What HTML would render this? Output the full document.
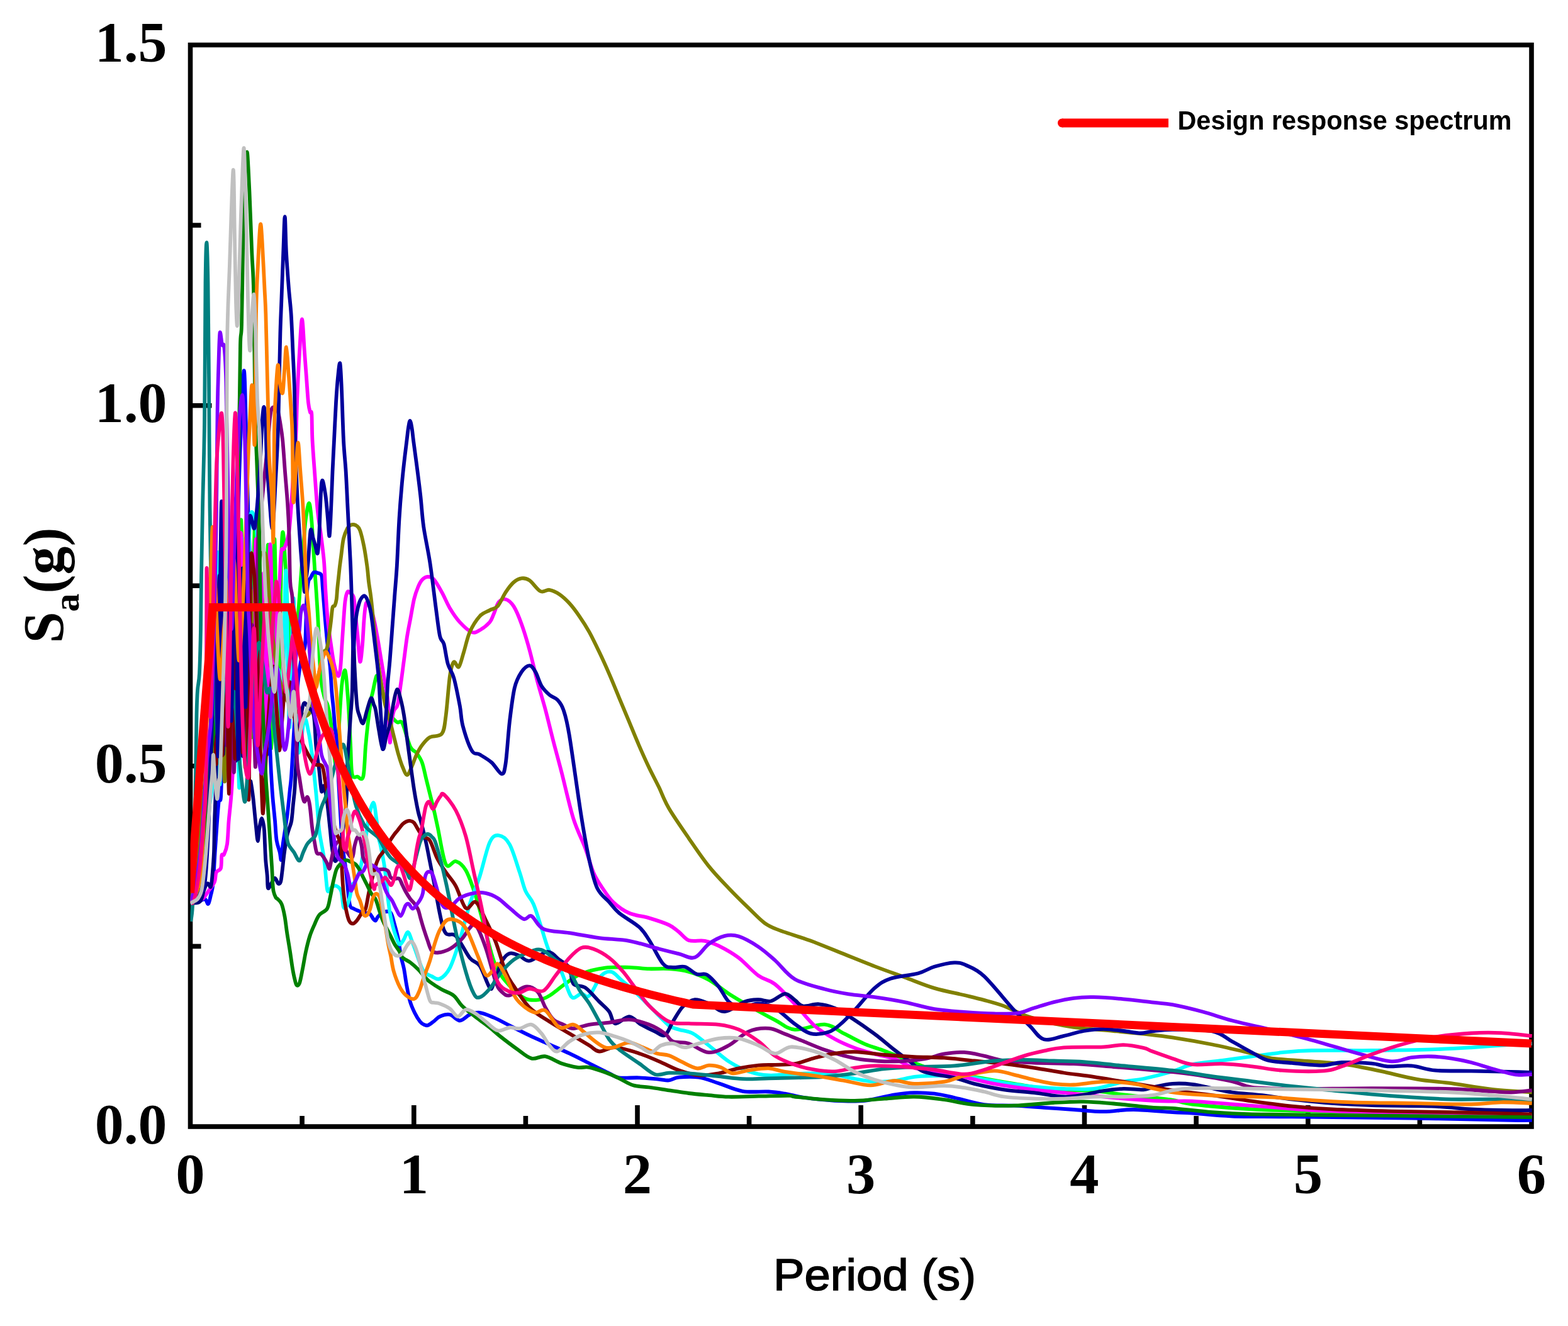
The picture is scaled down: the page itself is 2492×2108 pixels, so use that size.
<!DOCTYPE html>
<html lang="en"><head><meta charset="utf-8"><title>Response spectra</title>
<style>
html,body{margin:0;padding:0;background:#fff;}
body{width:2492px;height:2108px;overflow:hidden;position:relative;font-family:"Liberation Serif",serif;}
svg{position:absolute;left:0;top:0;display:block;}
.tk{font-family:"Liberation Serif",serif;font-weight:bold;font-size:90px;fill:#000;}
.yl{font-family:"Liberation Serif",serif;font-weight:bold;font-size:90px;fill:#000;}
.xl{font-family:"Liberation Sans","DejaVu Sans",sans-serif;font-size:71px;fill:#000;}
.lg{font-family:"Liberation Sans","DejaVu Sans",sans-serif;font-weight:bold;font-size:43px;fill:#000;}
.c{fill:none;stroke-width:5.8;stroke-linejoin:round;stroke-linecap:butt;}
</style></head><body>
<svg width="2492" height="2108" viewBox="0 0 2492 2108">
<rect x="0" y="0" width="2492" height="2108" fill="#fff"/>
<g stroke="#000" stroke-width="7.6" fill="none" stroke-linecap="butt">
<rect x="302.5" y="71.5" width="2131.5" height="1719.5"/>
<line x1="480.1" y1="1791.0" x2="480.1" y2="1774.0"/>
<line x1="657.8" y1="1791.0" x2="657.8" y2="1757.0"/>
<line x1="835.4" y1="1791.0" x2="835.4" y2="1774.0"/>
<line x1="1013" y1="1791.0" x2="1013" y2="1757.0"/>
<line x1="1190.6" y1="1791.0" x2="1190.6" y2="1774.0"/>
<line x1="1368.2" y1="1791.0" x2="1368.2" y2="1757.0"/>
<line x1="1545.9" y1="1791.0" x2="1545.9" y2="1774.0"/>
<line x1="1723.5" y1="1791.0" x2="1723.5" y2="1757.0"/>
<line x1="1901.1" y1="1791.0" x2="1901.1" y2="1774.0"/>
<line x1="2078.8" y1="1791.0" x2="2078.8" y2="1757.0"/>
<line x1="2256.4" y1="1791.0" x2="2256.4" y2="1774.0"/>
<line x1="302.5" y1="1504.4" x2="319.5" y2="1504.4"/>
<line x1="302.5" y1="1217.8" x2="336.5" y2="1217.8"/>
<line x1="302.5" y1="931.2" x2="319.5" y2="931.2"/>
<line x1="302.5" y1="644.7" x2="336.5" y2="644.7"/>
<line x1="302.5" y1="358.1" x2="319.5" y2="358.1"/>
</g>
<defs><clipPath id="pc"><rect x="302.5" y="71.5" width="2132.5" height="1719.5"/></clipPath></defs>
<g class="c" clip-path="url(#pc)">
<path d="M302.5 1436C304.1 1431.7 309.1 1424.3 312 1410C314.9 1395.7 317.3 1376.7 320 1350C322.7 1323.3 325.7 1275 328 1250C330.3 1225 332 1261.4 334 1200C336 1138.6 338 879.5 340 881.7C342 883.9 344.2 1218.5 346.1 1213.2C348 1207.9 349.4 859.1 351.2 849.8C352.9 840.5 354.7 1144.3 356.6 1157.6C358.5 1170.9 360.8 914.8 362.6 929.7C364.4 944.6 365.6 1252.9 367.3 1246.8C369 1240.7 371 904.7 372.7 893.1C374.4 881.5 375.6 1188.4 377.4 1177.3C379.1 1166.2 381.2 819.3 383.2 826.4C385.2 833.5 387.7 1211.8 389.5 1220.1C391.3 1228.4 392.5 884.3 394.2 876.3C395.9 868.3 397.9 1178.8 399.7 1172C401.5 1165.2 403.2 830 405 835.8C406.8 841.5 408.6 1188 410.4 1206.5C412.1 1225 413.7 953.5 415.5 946.9C417.3 940.3 419.2 1180.2 421 1166.7C422.8 1153.2 424.3 862.1 426 865.9C427.7 869.7 429.7 1191 431.4 1189.5C433.1 1188 434.5 862.3 436.2 856.9C437.9 851.5 439.7 1156.6 441.7 1157.1C443.7 1157.6 446 902.9 448 860C450 817.1 452.3 884 453.7 900C455.1 916 455.1 939.3 456.2 956C457.2 972.7 458.4 986 460 1000C461.6 1014 464 1040 466 1040C468 1040 470 1020 472 1000C474 980 476.1 945.1 478 920C479.9 894.9 482.3 865.5 483.6 849.6C484.9 833.7 484.8 833 486 824.7C487.2 816.4 489.6 799.8 491.1 799.8C492.6 799.8 493.9 813 495 824.7C496.1 836.4 497.1 855.8 498 870C498.9 884.2 499.8 898.8 500.5 910C501.2 921.2 501.7 926.6 502.4 937.4C503.1 948.2 504.1 962.4 504.8 974.8C505.5 987.2 506.2 999.5 506.7 1012C507.2 1024.5 507.3 1037.1 508 1049.6C508.7 1062.1 509.7 1076.9 511 1087C512.3 1097.1 514.3 1104.2 516 1110C517.7 1115.8 519.3 1115.3 521 1122C522.7 1128.7 524.3 1137 526 1150C527.7 1163 529.5 1189.2 531 1200C532.5 1210.8 533.5 1225.4 535 1215C536.5 1204.6 538.4 1158.7 539.8 1137.4C541.2 1116.1 542 1098.9 543.5 1087C545 1075.1 547 1063.7 548.5 1065.9C550 1068.1 551.2 1088.2 552.2 1100C553.2 1111.8 553.9 1122.5 554.7 1137C555.5 1151.5 556.4 1171.3 557.2 1187C558 1202.7 557.9 1223 559.7 1231C561.5 1239 565.1 1234.1 568 1234.7C570.9 1235.3 575 1242.7 577.2 1234.7C579.4 1226.8 579.8 1201.1 581 1187C582.2 1172.9 583.3 1162.4 584.7 1150C586.1 1137.6 588.4 1120.5 589.6 1112.5C590.8 1104.5 590.5 1108.3 592 1102C593.5 1095.7 596.6 1077.4 598.4 1074.6C600.2 1071.8 600.7 1079.1 603 1085C605.3 1090.9 609.2 1101.7 612 1110C614.8 1118.3 616.9 1128.7 620 1135C623.1 1141.3 627.5 1145.5 630.8 1148C634 1150.5 636 1143.5 639.5 1150C643 1156.5 648.2 1179.2 652 1187C655.8 1194.8 658.9 1192.8 662 1197C665.1 1201.2 668.2 1205.3 670.7 1212C673.2 1218.7 674.9 1228.7 677 1237C679.1 1245.3 681.1 1253.7 683.2 1262C685.3 1270.3 687.3 1278.2 689.4 1287C691.5 1295.8 692.4 1300.5 695.6 1315C698.8 1329.5 703.8 1364.9 708.6 1374C713.4 1383 719.2 1367.6 724.5 1369.2C729.7 1370.8 735 1374.2 740.3 1383.5C745.6 1392.7 750.8 1408.3 756.1 1424.6C761.4 1441 766.7 1463.1 771.9 1481.6C777.2 1500.1 781.4 1521.2 787.8 1535.4C794.1 1549.6 802 1558.4 809.9 1567.1C817.8 1575.8 827.3 1583.9 835.3 1587.6C843.2 1591.3 851.1 1590 857.4 1589.2C863.7 1588.4 866.4 1587.1 873.2 1582.9C880.1 1578.7 890.1 1569.7 898.6 1563.9C907 1558.1 913.3 1552.3 923.9 1548.1C934.4 1543.8 949.2 1540.3 961.9 1538.6C974.5 1536.9 988.3 1537.7 999.9 1537.9C1011.5 1538.2 1021 1539.8 1031.5 1540.2C1042.1 1540.5 1052.6 1539.4 1063.2 1540.2C1073.7 1540.9 1084.3 1542 1094.8 1544.9C1105.4 1547.8 1115.9 1551.8 1126.5 1557.6C1137 1563.4 1147.6 1572.9 1158.1 1579.7C1168.7 1586.6 1177.5 1591.7 1189.8 1598.7C1202.1 1605.7 1219.4 1615.2 1231.7 1621.6C1243.9 1627.9 1250.1 1635.6 1263.3 1636.8C1276.5 1637.9 1297.6 1627.4 1310.8 1628.6C1324 1629.7 1331.9 1638.6 1342.5 1643.7C1353 1648.9 1363.6 1655.1 1374.1 1659.6C1384.7 1664.1 1395.2 1666.7 1405.8 1670.7C1416.3 1674.6 1424.2 1678.3 1437.4 1683.3C1450.6 1688.3 1466.4 1696 1484.9 1700.7C1503.4 1705.5 1527.1 1708.1 1548.2 1711.8C1569.3 1715.5 1590.4 1719.5 1611.5 1722.9C1632.6 1726.3 1653.7 1730.5 1674.8 1732.4C1695.9 1734.2 1719.7 1732.6 1738.1 1734C1756.6 1735.3 1765.3 1737.9 1785.6 1740.3C1805.9 1742.7 1841.8 1745.7 1860 1748.2C1878.2 1750.7 1873.3 1752.9 1895 1755.5C1916.6 1758 1958.3 1761.5 1989.9 1763.4C2021.6 1765.2 2042.7 1765.4 2084.9 1766.6C2127.1 1767.7 2184.9 1769.2 2243.2 1770.4C2301.5 1771.5 2402.8 1773 2434.7 1773.5" stroke="#00ff00"/>
<path d="M302.5 1437C305.1 1436.2 314.1 1433.2 318 1432C321.9 1430.8 323.8 1428.7 326 1429.5C328.2 1430.3 329.5 1438.1 331 1437C332.5 1435.9 333.7 1428.4 335 1423C336.3 1417.6 337.4 1416.8 338.6 1404.6C339.8 1392.4 340.5 1371.3 342 1350C343.5 1328.7 345.9 1290.8 347.4 1277C348.9 1263.2 350.1 1279.8 351 1267C351.9 1254.2 352.2 1227.8 353 1200C353.8 1172.2 354.8 1133.3 356 1100C357.2 1066.7 358.5 1008.8 360 1000C361.5 991.2 363.3 1024.5 365 1047C366.7 1069.5 368.3 1142.8 370 1135C371.7 1127.2 373.5 1055.8 375 1000C376.5 944.2 377.7 853.3 379 800C380.3 746.7 381.5 715.1 383 680C384.5 644.9 386.5 589.2 387.8 589.2C389.1 589.2 390 644.9 391 680C392 715.1 393.2 771.7 394 800C394.8 828.3 395 816.7 396 850C397 883.3 398.7 955 400 1000C401.3 1045 402.7 1120 404 1120C405.3 1120 406.7 1031.7 408 1000C409.3 968.3 410.7 921.7 412 930C413.3 938.3 414.7 1013.3 416 1050C417.3 1086.7 418.7 1125 420 1150C421.3 1175 422.8 1200 424 1200C425.2 1200 425.8 1145 427 1150C428.2 1155 429.9 1210.4 431 1230C432.1 1249.6 432.4 1254.9 433.4 1267.4C434.4 1279.9 436 1293.4 437 1304.8C438 1316.2 438.3 1327.7 439.6 1336C440.9 1344.3 443.4 1349.5 444.6 1354.7C445.8 1359.9 446.2 1369.1 447 1367C447.8 1364.9 448.5 1350.3 449.6 1342C450.7 1333.7 452.2 1325.3 453.4 1317C454.6 1308.7 455.8 1302.3 457 1292C458.2 1281.7 459.8 1265.3 460.8 1255C461.9 1244.7 462.1 1247.5 463.3 1230C464.5 1212.5 466.2 1175 468 1150C469.8 1125 472 1098.3 474 1080C476 1061.7 478.2 1049.3 480 1040C481.8 1030.7 483.8 1039 485 1024C486.2 1009 486.6 966.5 487.4 950C488.2 933.5 489 930.2 490 925C491 919.8 492.2 921.2 493.6 918.7C495 916.2 496.7 911.3 498.6 910C500.5 908.7 502.9 910.2 505 911C507.1 911.8 509.7 910.7 511 915C512.3 919.3 512 925 513 937C514 949 515.7 971.5 517 987C518.3 1002.5 519.7 1017.5 521 1030C522.3 1042.5 523.8 1050.3 524.8 1062C525.8 1073.7 526.5 1089.5 527.3 1100C528.1 1110.5 529 1115.7 529.8 1125C530.6 1134.3 531.5 1147.7 532.3 1156C533.1 1164.3 533.8 1161 534.8 1175C535.8 1189 536.8 1217.5 538 1240C539.2 1262.5 540.7 1290.4 542 1310C543.3 1329.6 544.7 1345.4 546 1357.4C547.3 1369.4 548.7 1373.7 549.7 1382C550.7 1390.3 551.2 1397.6 552.2 1407C553.2 1416.4 554.3 1432.2 556 1438.5C557.7 1444.8 559.7 1443 562.2 1444.7C564.7 1446.4 568.5 1447.3 571 1448.5C573.5 1449.7 574.5 1451.4 577.2 1452C579.9 1452.6 584.3 1450.5 587 1452C589.7 1453.5 591.7 1459.1 593.4 1461C595.1 1462.9 595.8 1464.1 597 1463.4C598.2 1462.7 598.7 1459.2 600.9 1457C603.1 1454.8 606.7 1451 610 1450C613.3 1449 618 1447.7 620.8 1451C623.6 1454.3 624.9 1462.3 627 1469.6C629.1 1476.9 631.6 1486.3 633.3 1494.6C635 1502.9 635.5 1511.9 637 1519.5C638.5 1527.1 640.5 1532.4 642 1540C643.5 1547.6 644.4 1556.3 646 1565C647.6 1573.7 649.5 1584.5 651.7 1592C653.9 1599.5 656.4 1604.7 659 1610C661.6 1615.3 665 1620.8 667.5 1624C670 1627.2 671.9 1628 674 1629C676.1 1630 677.5 1630.8 680 1630C682.5 1629.2 685.8 1626.3 689 1624C692.2 1621.7 694.7 1617.8 699 1616C703.3 1614.2 709.7 1611.9 715 1613C720.3 1614 725.5 1622.5 730.8 1622.5C736.1 1622.5 741.3 1615.1 746.6 1613C751.9 1610.8 756.1 1609 762.5 1609.8C768.8 1610.6 776.7 1614.3 784.6 1617.7C792.5 1621.1 800.4 1625.6 809.9 1630.4C819.4 1635.1 831 1641.2 841.6 1646.2C852.1 1651.2 862.7 1655.7 873.2 1660.4C883.8 1665.2 894.3 1669.7 904.9 1674.7C915.5 1679.7 926 1685.2 936.6 1690.5C947.1 1695.8 960.3 1702.5 968.2 1706.3C976.1 1710.1 976.1 1712.1 984 1713.3C992 1714.5 1005.1 1712.9 1015.7 1713.3C1026.2 1713.7 1039.4 1715.2 1047.4 1715.8C1055.3 1716.5 1057.9 1718 1063.2 1717.4C1068.5 1716.9 1071.1 1713.5 1079 1712.7C1086.9 1711.9 1100.1 1711.1 1110.7 1712.7C1121.2 1714.3 1130.7 1718.5 1142.3 1722.2C1153.9 1725.9 1167.1 1732.6 1180.3 1734.8C1193.5 1737 1210.3 1734.8 1221.5 1735.5C1232.7 1736.1 1237.9 1737.1 1247.5 1738.7C1257.1 1740.3 1265.9 1743.2 1279.1 1745C1292.3 1746.9 1310.8 1749 1326.6 1749.8C1342.5 1750.6 1358.3 1751.4 1374.1 1749.8C1389.9 1748.2 1408.4 1742.4 1421.6 1740.3C1434.8 1738.2 1442.7 1737.4 1453.2 1737.1C1463.8 1736.9 1474.3 1737.4 1484.9 1738.7C1495.5 1740 1503.4 1742.1 1516.6 1745C1529.7 1747.9 1548.2 1754 1564 1756.1C1579.9 1758.2 1595.7 1756.9 1611.5 1757.7C1627.4 1758.5 1643.2 1759.8 1659 1760.9C1674.8 1761.9 1690.7 1763 1706.5 1764C1722.3 1765.1 1738.1 1767.2 1754 1767.2C1769.8 1767.2 1783.2 1763.9 1801.5 1764C1819.7 1764.2 1847.7 1767.2 1863.3 1768.1C1878.9 1769.1 1879.1 1768.7 1895 1769.7C1910.8 1770.8 1931.9 1773.5 1958.3 1774.5C1984.7 1775.4 2005.8 1774.9 2053.2 1775.4C2100.7 1775.9 2185.1 1776.7 2243.2 1777.6C2301.2 1778.5 2369.5 1780.3 2401.5 1780.8C2433.4 1781.3 2429.2 1780.8 2434.7 1780.8" stroke="#0000ff"/>
<path d="M302.5 1436C304.1 1433.3 308.8 1429.3 312 1420C315.2 1410.7 319 1400 322 1380C325 1360 327 1329.5 330 1300C333 1270.5 337.4 1273.2 340 1202.8C342.6 1132.4 344 870.5 345.7 877.8C347.4 885.1 348.4 1248.3 350 1246.8C351.6 1245.2 353.7 883.8 355.4 868.5C357.1 853.2 358.5 1141 360.1 1155.3C361.8 1169.6 363.7 950.6 365.3 954.1C366.9 957.6 368.2 1183.7 369.8 1176.5C371.4 1169.3 372.9 898.5 374.6 911.2C376.4 923.9 378.5 1261.5 380.3 1252.5C382.1 1243.5 383.8 878.2 385.4 857.2C387 836.2 388.6 1111.6 390.1 1126.8C391.6 1142 393.2 997.7 394.4 948.2C395.5 898.7 395.6 851.5 397 830C398.4 808.5 401 812.8 403 819C405 825.2 407.3 819 409 867C410.7 915 411.3 1094.2 413 1106.9C414.7 1119.7 417.1 935.3 419.1 943.5C421.2 951.7 423.4 1150.9 425.3 1156.3C427.2 1161.7 428.5 973.8 430.5 975.7C432.5 977.7 435.1 1153.2 437.1 1168C439.1 1182.8 440.7 1070 442.6 1064.8C444.5 1059.6 446.6 1163.1 448.6 1136.8C450.6 1110.5 452.6 903.7 454.5 907C456.4 910.3 457.9 1149.3 459.9 1156.7C461.9 1164.1 464.4 945.9 466.6 951.2C468.8 956.5 470.2 1156.5 473 1188.6C475.8 1220.7 480.8 1148 483.6 1143.6C486.4 1139.2 487.9 1152.6 490 1162C492.1 1171.4 494.4 1187.3 496 1199.8C497.6 1212.3 498.6 1224.5 499.9 1237C501.2 1249.5 502.4 1260.8 503.6 1274.6C504.8 1288.4 505.4 1305.2 507.3 1320C509.2 1334.8 512.9 1350.1 514.8 1363.6C516.7 1377.1 517.6 1392.1 518.6 1401C519.6 1409.9 519.5 1415.5 521 1417C522.5 1418.5 525 1411.4 527.3 1410C529.6 1408.6 532.3 1407.3 534.8 1408.5C537.3 1409.7 540.4 1411.4 542.3 1417C544.2 1422.6 544.5 1438.2 546 1442C547.5 1445.8 549.3 1442.7 551 1440C552.7 1437.3 554.5 1431.5 556 1426C557.5 1420.5 558.2 1411.2 559.7 1407C561.2 1402.8 562.6 1405.2 564.7 1401C566.8 1396.8 570.1 1389.3 572.2 1382C574.3 1374.7 576 1363.6 577.2 1357.4C578.5 1351.2 578.2 1354.6 579.7 1345C581.2 1335.4 583.7 1311.5 586 1300C588.3 1288.5 591.4 1275.8 593.4 1275.8C595.4 1275.8 596.6 1290.6 598 1300C599.4 1309.4 600.8 1324.5 602 1332C603.2 1339.5 603.5 1337.7 605 1345C606.5 1352.3 609.2 1365.7 610.8 1376C612.4 1386.3 613.6 1397.7 614.6 1407C615.6 1416.3 616 1423.7 617 1432C618 1440.3 619.1 1448.7 620.8 1457C622.5 1465.3 624.7 1474.7 627 1482C629.3 1489.3 632.2 1498.6 634.5 1500.8C636.8 1503 638.7 1498.1 641 1495C643.3 1491.9 646 1481.7 648.3 1482C650.6 1482.3 652.9 1491.8 655 1497C657.1 1502.2 659 1507.5 661 1513C663 1518.5 664.9 1524.7 667 1530C669.1 1535.3 670.6 1541.3 673.8 1545C677 1548.7 681.8 1550.2 686 1552C690.2 1553.8 694.2 1558.2 699 1556C703.8 1553.8 709.7 1548.9 715 1538.6C720.3 1528.3 725.5 1511.1 730.8 1494.3C736.1 1477.4 741.3 1454.2 746.6 1437.3C751.9 1420.4 757.2 1409.3 762.5 1393C767.7 1376.6 773.3 1350 778.3 1339.1C783.3 1328.3 787.2 1327.5 792.5 1328.1C797.8 1328.6 804.4 1332.5 809.9 1342.3C815.5 1352.1 821.5 1374.2 825.8 1386.6C830 1399 831.6 1408.3 835.3 1416.7C839 1425.1 843.7 1427.5 847.9 1437.3C852.1 1447 856.4 1462.6 860.6 1475.3C864.8 1487.9 868 1501.6 873.2 1513.2C878.5 1524.9 886.4 1533 892.2 1544.9C898 1556.8 902.8 1578.7 908.1 1584.5C913.3 1590.3 919.1 1580 923.9 1579.7C928.6 1579.5 931.3 1587.6 936.6 1582.9C941.8 1578.1 949.7 1557.6 955.5 1551.2C961.4 1544.9 966.1 1543.8 971.4 1544.9C976.7 1546 979.8 1551.2 987.2 1557.6C994.6 1563.9 1006.7 1574.4 1015.7 1582.9C1024.7 1591.3 1033.1 1600.3 1041 1608.2C1048.9 1616.1 1056.8 1625.6 1063.2 1630.4C1069.5 1635.1 1072.7 1634.6 1079 1636.7C1085.3 1638.8 1093.3 1638.8 1101.2 1643C1109.1 1647.3 1117 1654.6 1126.5 1662C1136 1669.4 1147.6 1680.5 1158.1 1687.4C1168.7 1694.2 1179.2 1699.5 1189.8 1703.2C1200.4 1706.9 1209.2 1708.9 1221.5 1709.5C1233.7 1710.2 1251.1 1707.6 1263.3 1707.1C1275.6 1706.5 1284.4 1706.2 1295 1706.4C1305.5 1706.7 1316.1 1707.2 1326.6 1708.6C1337.2 1710.1 1347.7 1713.1 1358.3 1715C1368.8 1716.8 1379.4 1719.2 1389.9 1719.7C1400.5 1720.2 1411 1719.5 1421.6 1718.1C1432.1 1716.8 1442.7 1713.1 1453.2 1711.8C1463.8 1710.5 1474.3 1710.5 1484.9 1710.2C1495.5 1710 1506 1709.7 1516.6 1710.2C1527.1 1710.8 1535 1711.5 1548.2 1713.4C1561.4 1715.2 1579.9 1718.9 1595.7 1721.3C1611.5 1723.7 1627.4 1726.1 1643.2 1727.6C1659 1729.2 1674.8 1730.3 1690.7 1730.8C1706.5 1731.3 1722.3 1732.6 1738.1 1730.8C1754 1729 1772.4 1722.4 1785.6 1719.7C1798.8 1717.1 1804.3 1717.7 1817.3 1715C1830.2 1712.2 1850.4 1707 1863.3 1703.2C1876.3 1699.4 1881.8 1695.1 1895 1692.2C1908.2 1689.3 1926.6 1687.9 1942.5 1685.8C1958.3 1683.7 1974.1 1681.6 1989.9 1679.5C2005.8 1677.4 2021.6 1674.8 2037.4 1673.2C2053.2 1671.6 2061.2 1670.5 2084.9 1670C2108.6 1669.5 2148.2 1670.3 2179.9 1670C2211.5 1669.7 2248.5 1669.2 2274.8 1668.4C2301.2 1667.6 2317 1666.6 2338.1 1665.3C2359.2 1663.9 2385.4 1661.6 2401.5 1660.5C2417.5 1659.5 2429.2 1659.2 2434.7 1658.9" stroke="#00ffff"/>
<path d="M302.5 1436C305.6 1434.9 317.1 1431.4 321 1429.5C324.9 1427.6 324.3 1426.6 326 1424.5C327.7 1422.4 328.5 1420.8 331 1417C333.5 1413.2 338.9 1407 341 1402C343.1 1397 341.9 1390.7 343.6 1387C345.3 1383.3 349.5 1384.5 351 1380C352.4 1375.5 351.6 1363.3 352.4 1359.7C353.2 1356.1 354.6 1361.5 356 1358.5C357.4 1355.5 359.7 1350.9 361 1342C362.3 1333.1 362.6 1317.5 363.6 1305C364.7 1292.5 366.3 1279.5 367.3 1267C368.3 1254.5 368.9 1243.5 369.8 1230C370.7 1216.5 371.3 1194.6 372.5 1186C373.7 1177.4 375.3 1234.7 377 1178.2C378.7 1121.7 380.7 847.4 382.8 846.9C384.9 846.4 387.3 1159.8 389.4 1175.3C391.5 1190.8 393.5 943.7 395.4 939.9C397.3 936.1 398.8 1166.5 400.7 1152.7C402.6 1138.9 404.9 850.8 406.9 857C408.9 863.2 410.8 1181.2 412.7 1190.2C414.6 1199.2 416.7 911.8 418.6 911.3C420.5 910.8 422.2 1194.6 424 1186.9C425.8 1179.2 427.3 870.7 429.3 865.3C431.3 859.9 434.2 1135.4 436 1154.5C437.8 1173.6 438.7 1017.4 440 980C441.3 942.6 442.8 947.2 444 930C445.2 912.8 445.7 886.7 447 877C448.3 867.3 450.1 876.6 452 872C453.9 867.4 456.9 860.4 458.7 849.6C460.5 838.8 461.4 823.7 462.7 807C464 790.3 465.2 768.6 466.5 749.4C467.8 730.2 469.3 711 470.3 691.8C471.3 672.6 471.4 656 472.3 634C473.2 612 474.7 581.1 476 560C477.3 538.9 478.7 507.5 480 507.5C481.3 507.5 482.8 544.6 484 560C485.2 575.4 486 586.7 487 600C488 613.3 489 630.8 490 640C491 649.2 492.1 652.4 493 655.4C493.9 658.4 494.7 650.6 495.3 658C495.9 665.4 495.7 684.7 496.5 700C497.3 715.3 498.6 731.3 500 750C501.4 768.7 503.1 795.3 504.8 812C506.5 828.7 508.3 836.5 510 850C511.7 863.5 513.8 878.4 515 893C516.2 907.6 516.3 921.7 517.3 937.4C518.3 953.1 519.5 972.5 521 987C522.5 1001.5 524.3 1013.2 526 1024.7C527.7 1036.2 529.1 1047.7 531 1056C532.9 1064.3 535.6 1073.6 537.3 1074.6C539 1075.6 540 1070.3 541 1062C542 1053.7 542.7 1037.2 543.5 1024.7C544.3 1012.2 545.2 998.8 546 987.3C546.8 975.8 547.5 963.7 548.5 956C549.5 948.3 550.8 943.2 552.2 941C553.6 938.8 555.3 941.5 557 943C558.7 944.5 560.9 944.7 562.2 950C563.5 955.3 563.7 964.5 564.7 974.8C565.8 985.1 567.2 999.1 568.5 1012C569.8 1024.9 571 1049.9 572.2 1052C573.5 1054.1 575 1035.5 576 1024.7C577 1013.9 577.6 997.7 578.4 987.3C579.2 976.9 580.2 967.2 581 962.4C581.8 957.6 582.2 958 583.4 958.6C584.6 959.2 586.3 962.3 588 966C589.7 969.7 591.5 973.3 593.4 981C595.3 988.7 597.5 1000.6 599.6 1012C601.7 1023.4 603.8 1037.1 605.9 1049.6C608 1062.1 610.1 1075.3 612 1087C613.9 1098.7 615.7 1104.5 617 1120C618.3 1135.5 618.8 1175 619.6 1180C620.4 1185 620.9 1158.3 622 1150C623.1 1141.7 624.3 1135 626 1130C627.7 1125 630.2 1127.2 632 1120C633.8 1112.8 635.3 1098.7 637 1087C638.7 1075.3 640.3 1062.1 642 1049.6C643.7 1037.1 645.3 1022.8 647 1012C648.7 1001.2 650.1 995 652 985C653.9 975 656.1 960.7 658.2 952C660.3 943.3 662.4 938 664.5 933C666.6 928 668.2 924.7 670.7 922C673.2 919.3 676.3 917.2 679.4 917C682.5 916.8 685.6 916.9 689.4 921C693.2 925.1 698 933.9 702.3 941.6C706.6 949.2 710.2 959 715 966.9C719.7 974.8 725 982.7 730.8 989.1C736.6 995.4 744.5 1002.8 749.8 1004.9C755.1 1007 757.7 1004.4 762.5 1001.7C767.2 999.1 774.6 993.3 778.3 989.1C782 984.9 782.2 981.7 784.6 976.4C787 971.1 789.4 961.4 792.5 957.4C795.7 953.5 799.6 951.6 803.6 952.7C807.6 953.7 812 957.2 816.3 963.7C820.5 970.3 824.7 980.6 828.9 992.2C833.1 1003.8 837.4 1018.1 841.6 1033.4C845.8 1048.7 850 1068.2 854.3 1084C858.5 1099.9 862.7 1112.5 866.9 1128.4C871.1 1144.2 875.4 1162.7 879.6 1179C883.8 1195.4 887 1206.1 892.2 1226.5C897.5 1246.8 904.9 1280.8 911.2 1301.2C917.6 1321.5 924.9 1334.4 930.2 1348.6C935.5 1362.9 938.7 1376.6 942.9 1386.6C947.1 1396.6 950.3 1400.9 955.5 1408.8C960.8 1416.7 967.2 1427 974.5 1434.1C981.9 1441.2 990.4 1447.3 999.9 1451.5C1009.4 1455.7 1021 1456.3 1031.5 1459.4C1042.1 1462.6 1055.3 1466.8 1063.2 1470.5C1071.1 1474.2 1073.7 1477.5 1079 1481.6C1084.3 1485.7 1088 1492.5 1094.8 1494.9C1101.7 1497.3 1112.2 1494.4 1120.2 1495.8C1128.1 1497.3 1133.3 1499.3 1142.3 1503.7C1151.3 1508.2 1163.4 1514.8 1174 1522.7C1184.5 1530.7 1196 1544.3 1205.6 1551.2C1215.2 1558.2 1222 1557.1 1231.7 1564.6C1241.3 1572.1 1252.8 1585.2 1263.3 1596.3C1273.9 1607.3 1284.4 1621.9 1295 1631.1C1305.5 1640.3 1316.1 1645.9 1326.6 1651.7C1337.2 1657.5 1347.7 1661.9 1358.3 1665.9C1368.8 1669.9 1379.4 1672.5 1389.9 1675.4C1400.5 1678.3 1411 1679.6 1421.6 1683.3C1432.1 1687 1437.4 1693.3 1453.2 1697.6C1469.1 1701.8 1495.5 1704.4 1516.6 1708.6C1537.7 1712.9 1558.8 1718.9 1579.9 1722.9C1601 1726.8 1622.1 1729.7 1643.2 1732.4C1664.3 1735 1685.4 1736.6 1706.5 1738.7C1727.6 1740.8 1748.7 1743.2 1769.8 1745C1790.9 1746.9 1818.1 1748.8 1833.1 1749.8C1848.1 1750.7 1849.7 1750.6 1860 1750.7C1870.3 1750.9 1878.6 1749.9 1895 1750.7C1911.3 1751.5 1937.2 1753.9 1958.3 1755.5C1979.4 1757.1 2000.5 1758.6 2021.6 1760.2C2042.7 1761.8 2058.5 1763.7 2084.9 1765C2111.3 1766.3 2142.9 1767.1 2179.9 1768.1C2216.8 1769.2 2264 1770.2 2306.5 1771.3C2349 1772.4 2413.3 1773.9 2434.7 1774.5" stroke="#ff00ff"/>
<path d="M302.5 1435C304.1 1425.8 309.1 1402.5 312 1380C314.9 1357.5 317.3 1326.7 320 1300C322.7 1273.3 325.3 1243.3 328 1220C330.7 1196.7 333.3 1162.3 336 1160C338.7 1157.7 341.6 1238.6 344 1206.1C346.4 1173.6 348.2 958.8 350.4 964.8C352.6 970.8 354.9 1256.7 357.2 1242C359.5 1227.3 361.9 883.1 364 876.5C366.1 869.9 367.9 1198.3 369.9 1202.2C371.9 1206.1 374.3 900.6 376.2 900C378.1 899.4 379.7 1181.5 381.5 1198.5C383.3 1215.5 385.1 1001 387 1002.2C388.9 1003.4 391.2 1216.2 393.2 1205.7C395.1 1195.2 396.7 941.1 398.7 939C400.7 936.9 403.4 1197.3 405.4 1193.3C407.4 1189.3 408.4 967.1 410.8 914.9C413.2 862.7 417.8 883.1 420 880C422.2 876.9 423.1 887 424.3 896C425.5 905 425.7 916.7 427 934C428.3 951.3 429.8 979 432 1000C434.2 1021 437 1043.3 440 1060C443 1076.7 446.7 1090 450 1100C453.3 1110 456.7 1115 460 1120C463.3 1125 466.7 1127.5 470 1130C473.3 1132.5 477.2 1133.7 480 1135C482.8 1136.3 484.7 1138.8 487 1138C489.3 1137.2 491.4 1136.3 493.6 1130C495.8 1123.7 497.8 1110 500 1100C502.2 1090 504.5 1080.5 507 1070C509.5 1059.5 513.1 1042.7 514.8 1037C516.5 1031.3 516.3 1038 517.3 1036C518.3 1034 520 1029.7 521 1024.7C522 1019.7 522.8 1012.2 523.6 1006C524.4 999.8 525.2 994 526 987.3C526.8 980.6 527.5 970.1 528.5 966C529.5 961.9 531.2 964.7 532.3 962.4C533.3 960.1 534.2 956.6 534.8 952.4C535.4 948.2 535.5 943 536 937.4C536.5 931.8 537.3 924.9 538 918.7C538.7 912.5 539.3 905.6 540 900C540.7 894.4 541 892.4 542 885C543 877.6 544.3 863.4 546 855.9C547.7 848.4 550.4 843.2 552.2 839.7C554 836.2 555.3 836 557 835C558.7 834 560.5 833.8 562.2 834C563.9 834.2 565.3 834.4 567 836C568.7 837.6 570.3 838 572.2 843.4C574.1 848.8 576.5 859 578.4 868.4C580.3 877.8 582.1 890.6 583.4 900C584.7 909.4 585 916.7 586 925C587 933.3 588.4 939.7 589.6 950C590.8 960.3 592.2 974.5 593.4 987C594.6 999.5 595.6 1012.2 597 1024.7C598.4 1037.2 600.3 1050.6 602 1062C603.7 1073.4 605.3 1083.3 607 1093C608.7 1102.7 610.5 1113.3 612 1120C613.5 1126.7 614.5 1128 616 1133C617.5 1138 619 1143 620.8 1150C622.6 1157 624.9 1166.7 627 1175C629.1 1183.3 631.2 1192.5 633.3 1199.8C635.4 1207 637.2 1213.1 639.5 1218.5C641.8 1223.9 644.5 1232 647 1232C649.5 1232 652 1223.9 654.5 1218.5C657 1213.1 659.3 1205.4 662 1199.8C664.7 1194.2 667.2 1189.4 670.7 1184.8C674.2 1180.2 677.9 1175.1 683.2 1172C688.5 1168.9 698.1 1172 702.3 1166.3C706.5 1160.7 706.5 1153.2 708.6 1137.9C710.7 1122.6 712.9 1088.8 715 1074.5C717.1 1060.3 718.9 1054.8 721.3 1052.4C723.7 1050 726.6 1062.9 729.2 1060.3C731.8 1057.7 734.2 1045.8 737.1 1036.6C740 1027.3 742.4 1014.4 746.6 1004.9C750.8 995.4 757.2 985.4 762.5 979.6C767.7 973.8 773.5 972.7 778.3 970.1C783 967.4 786.7 968.5 790.9 963.7C795.2 959 799.4 947.9 803.6 941.6C807.8 935.3 812 929.5 816.3 925.8C820.5 922.1 824.7 920 828.9 919.4C833.1 918.9 836.6 919.2 841.6 922.6C846.6 926 853.7 937.5 859 940C864.3 942.5 868.2 937 873.2 937.8C878.3 938.6 883.8 941.2 889.1 944.8C894.3 948.3 899.6 953.2 904.9 959C910.2 964.8 915.5 971.9 920.7 979.6C926 987.2 931.3 995.4 936.6 1004.9C941.8 1014.4 947.1 1025.5 952.4 1036.6C957.7 1047.6 962.9 1059.2 968.2 1071.4C973.5 1083.5 978.8 1096.7 984 1109.4C989.3 1122 994.6 1134.7 999.9 1147.4C1005.1 1160 1010.4 1173.2 1015.7 1185.3C1021 1197.5 1026.2 1209.1 1031.5 1220.2C1036.8 1231.2 1042.1 1241 1047.4 1251.8C1052.6 1262.7 1055.3 1271.8 1063.2 1285.3C1071.1 1298.8 1084.3 1317.5 1094.8 1332.8C1105.4 1348.1 1115.9 1363.9 1126.5 1377.1C1137 1390.3 1147.6 1400.9 1158.1 1411.9C1168.7 1423 1180.3 1434.4 1189.8 1443.6C1199.3 1452.8 1207.2 1461.5 1215.1 1467.3C1223 1473.1 1226.5 1474.2 1237.3 1478.4C1248.1 1482.6 1270.4 1489.4 1280 1492.7C1289.6 1496 1287.2 1495.1 1295 1498.1C1302.7 1501.2 1310.8 1504.5 1326.6 1510.8C1342.5 1517.1 1371.5 1529 1389.9 1536.1C1408.4 1543.2 1421.6 1547.7 1437.4 1553.5C1453.2 1559.3 1469.1 1566.2 1484.9 1570.9C1500.7 1575.7 1519.2 1578.9 1532.4 1582C1545.6 1585.2 1553.5 1587 1564 1589.9C1574.6 1592.8 1585.1 1595.5 1595.7 1599.4C1606.2 1603.4 1616.8 1609.7 1627.4 1613.7C1637.9 1617.6 1648.5 1620.4 1659 1623.2C1669.6 1626 1680.1 1628.5 1690.7 1630.5C1701.2 1632.4 1709.1 1633.5 1722.3 1634.9C1735.5 1636.3 1754 1637.5 1769.8 1639C1785.6 1640.5 1801.7 1642 1817.3 1643.7C1832.9 1645.5 1845.1 1646.6 1863.3 1649.4C1881.5 1652.2 1905.5 1656.3 1926.6 1660.5C1947.7 1664.7 1974.1 1671.1 1989.9 1674.8C2005.8 1678.4 2005.8 1680.6 2021.6 1682.7C2037.4 1684.8 2069.1 1686.2 2084.9 1687.4C2100.7 1688.6 2106 1688.9 2116.6 1689.9C2127.1 1691 2135 1691.5 2148.2 1693.7C2161.4 1696 2178.3 1699.6 2195.7 1703.2C2213.1 1706.9 2234.2 1712.7 2252.7 1715.9C2271.1 1719.1 2287 1719.6 2306.5 1722.2C2326 1724.9 2348.4 1729.4 2369.8 1731.7C2391.2 1734.1 2423.9 1735.7 2434.7 1736.5" stroke="#808000"/>
<path d="M302.5 1436C304.8 1435.8 313.1 1435.6 316 1434.5C318.9 1433.4 318.7 1432.4 320 1429.5C321.3 1426.6 322.5 1420.8 323.7 1417C324.9 1413.2 326.2 1409.1 327.4 1407C328.6 1404.9 329.7 1404.1 331 1404.6C332.3 1405.1 333.9 1412.1 335 1410C336.1 1407.9 336.6 1401.2 337.4 1392C338.2 1382.8 339.4 1369.2 340 1354.7C340.6 1340.2 340.6 1319.6 341 1305C341.4 1290.4 341.9 1284.5 342.4 1267C342.9 1249.5 342.9 1258.7 344 1200C345.1 1141.3 347.2 914.8 349 914.7C350.8 914.6 352.8 1197.6 354.5 1199.3C356.2 1201 357.5 931.8 359.1 925C360.8 918.2 362.6 1147 364.4 1158.5C366.2 1170 368 985.4 369.8 993.7C371.6 1002.1 373.4 1222.3 375.2 1208.6C377 1194.9 378.9 912.6 380.6 911.5C382.3 910.4 383.8 1198.1 385.5 1201.9C387.2 1205.8 389.2 929.9 390.8 934.6C392.4 939.3 393.5 1178.7 394.8 1230C396.1 1281.3 397.3 1236.3 398.5 1242.5C399.7 1248.7 401.2 1259.2 402.2 1267.4C403.2 1275.7 403.9 1283.7 404.7 1292C405.5 1300.3 406.4 1309.5 407.2 1317C408 1324.5 408.9 1337 409.7 1337C410.5 1337 411.1 1323 412.2 1317C413.2 1311 414.8 1301 416 1301C417.2 1301 418.9 1310.2 419.7 1317C420.5 1323.8 420.6 1333.7 421 1342C421.4 1350.3 421.6 1358.7 422.2 1367C422.8 1375.3 424.1 1384.5 424.7 1392C425.3 1399.5 424.9 1409.9 426 1412C427.1 1414.1 429.2 1407.3 431 1404.6C432.8 1401.9 435.2 1395.8 437 1395.8C438.8 1395.8 440.5 1403.6 442 1404.6C443.5 1405.6 444.9 1405.1 446 1402C447.1 1398.9 447.4 1393.9 448.4 1386C449.4 1378.1 450.7 1364.1 452 1354.7C453.3 1345.3 454.7 1336 456 1329.7C457.3 1323.4 458.4 1321.2 459.6 1317C460.8 1312.8 462.3 1311 463.3 1304.8C464.3 1298.6 465 1288.3 465.8 1280C466.6 1271.7 467.7 1263.3 468.3 1255C468.9 1246.7 468.9 1242.3 469.6 1230C470.3 1217.7 471 1196 472.4 1181C473.8 1166 476.2 1150.5 478 1140C479.8 1129.5 481 1120.5 483 1118C485 1115.5 487.4 1121.8 490 1125C492.6 1128.2 496.5 1126.7 498.6 1137C500.7 1147.3 500.9 1172.4 502.4 1187C503.8 1201.6 505.9 1212.9 507.3 1224.7C508.7 1236.5 509.8 1253.8 511 1258C512.2 1262.2 513.3 1246.8 514.8 1249.6C516.3 1252.4 518.1 1262.9 519.8 1274.6C521.5 1286.3 523.5 1308.3 524.8 1320C526 1331.7 526.3 1337.3 527.3 1345C528.3 1352.7 529.8 1362.3 531 1366C532.2 1369.7 533.3 1370.1 534.8 1367.4C536.3 1364.7 538.3 1357.9 540 1350C541.7 1342.1 543.5 1330 545 1320C546.5 1310 548 1299.7 549 1290C550 1280.3 550.5 1275 551 1262C551.5 1249 551.6 1226.5 552.2 1212C552.8 1197.5 553.9 1187.5 554.7 1175C555.5 1162.5 556.4 1149.5 557.2 1137C558 1124.5 559 1121.2 559.7 1100C560.4 1078.8 561 1016.7 561.6 1010C562.2 1003.3 562.6 1041.7 563.5 1060C564.4 1078.3 566 1107.2 567.2 1120C568.5 1132.8 569.4 1132 571 1137C572.6 1142 575 1151.2 577 1150C579 1148.8 580.9 1136.7 583 1130C585.1 1123.3 587.8 1111.7 589.6 1110C591.4 1108.3 592.8 1116.9 594 1120C595.2 1123.1 595.7 1122.1 597 1128.8C598.3 1135.5 600.1 1149.6 602 1160C603.9 1170.4 606.4 1189.3 608.4 1191C610.4 1192.7 612.1 1176.8 614 1170C615.9 1163.2 618.2 1158.3 620 1150C621.8 1141.7 623.2 1129 625 1120C626.8 1111 629 1097.2 631 1096C633 1094.8 635.2 1105.7 637 1112.5C638.8 1119.3 640.3 1126.6 642 1137C643.7 1147.4 645.3 1162.5 647 1175C648.7 1187.5 650.1 1198.5 652 1212C653.9 1225.5 656.1 1243 658.2 1256C660.3 1269 662.5 1281 664.5 1290C666.5 1299 667.9 1301.8 670 1310C672.1 1318.2 674.8 1329 677 1339C679.2 1349 681.1 1359.5 683.2 1370C685.3 1380.5 685.9 1383.9 689.6 1402C693.3 1420.1 699.7 1464.1 705.5 1478.4C711.3 1492.7 717.6 1480.5 724.5 1487.9C731.3 1495.3 740.3 1514.8 746.6 1522.7C753 1530.7 757.2 1527.5 762.5 1535.4C767.7 1543.3 774.6 1565.5 778.3 1570.2C782 1575 781.4 1570.8 784.6 1563.9C787.8 1557 793.1 1537.1 797.3 1529.1C801.5 1521.1 805.2 1517.4 809.9 1515.8C814.7 1514.2 820.5 1517.6 825.8 1519.6C831 1521.5 834.2 1528.5 841.6 1527.5C849 1526.4 862.2 1513.5 870.1 1513.2C878 1513 883.3 1521.7 889.1 1525.9C894.9 1530.1 901.2 1532.2 904.9 1538.6C908.6 1544.9 907 1558.6 911.2 1563.9C915.5 1569.2 923.4 1565.5 930.2 1570.2C937.1 1575 946.1 1586.1 952.4 1592.4C958.7 1598.7 964 1602.4 968.2 1608.2C972.4 1614 972.4 1625.9 977.7 1627.2C983 1628.5 993 1615.9 999.9 1616.1C1006.7 1616.4 1012 1624.8 1018.9 1628.8C1025.7 1632.7 1034.7 1637.1 1041 1639.9C1047.4 1642.7 1052.1 1648.2 1056.8 1645.6C1061.6 1642.9 1064.8 1631.6 1069.5 1624C1074.3 1616.5 1079.5 1606.1 1085.3 1600.3C1091.1 1594.5 1097.5 1590 1104.3 1589.2C1111.2 1588.4 1118.6 1592.4 1126.5 1595.5C1134.4 1598.7 1142.3 1608.7 1151.8 1608.2C1161.3 1607.7 1174.5 1595.5 1183.5 1592.4C1192.4 1589.2 1198.7 1589.4 1205.6 1589.2C1212.6 1589.1 1218.3 1593.1 1225.3 1591.5C1232.3 1589.9 1241.2 1580.1 1247.5 1579.8C1253.8 1579.5 1258.6 1586.7 1263.3 1589.9C1268.1 1593.2 1269.6 1598.4 1276 1599.4C1282.3 1600.5 1292.9 1595.7 1301.3 1596.3C1309.7 1596.8 1318.7 1599.4 1326.6 1602.6C1334.5 1605.8 1338.2 1608.4 1348.8 1615.3C1359.3 1622.1 1377.8 1634.8 1389.9 1643.7C1402.1 1652.7 1412.1 1661.7 1421.6 1669.1C1431.1 1676.5 1439 1682.3 1446.9 1688.1C1454.8 1693.9 1457.5 1699.7 1469.1 1703.9C1480.7 1708.1 1503.4 1710.2 1516.6 1713.4C1529.7 1716.6 1535 1719.7 1548.2 1722.9C1561.4 1726.1 1579.9 1730 1595.7 1732.4C1611.5 1734.8 1627.4 1735.3 1643.2 1737.1C1659 1739 1677.5 1742.9 1690.7 1743.5C1703.9 1744 1711.8 1741.9 1722.3 1740.3C1732.9 1738.7 1743.4 1735.5 1754 1734C1764.5 1732.4 1775.1 1731.1 1785.6 1730.8C1796.2 1730.5 1809.6 1732.8 1817.3 1732.4C1825 1732 1824 1730.2 1831.7 1728.6C1839.3 1727 1852.8 1723.7 1863.3 1722.9C1873.9 1722.1 1884.4 1722.6 1895 1723.8C1905.5 1725 1916.1 1728 1926.6 1730.2C1937.2 1732.3 1945.1 1734.6 1958.3 1736.5C1971.5 1738.3 1989.9 1739.4 2005.8 1741.2C2021.6 1743.1 2034.8 1745.5 2053.2 1747.6C2071.7 1749.7 2095.5 1752.3 2116.6 1753.9C2137.7 1755.5 2153.5 1756.3 2179.9 1757.1C2206.2 1757.9 2248.5 1757.6 2274.8 1758.6C2301.2 1759.7 2319.7 1762.3 2338.1 1763.4C2356.6 1764.4 2369.5 1764.7 2385.6 1765C2401.7 1765.2 2426.5 1765 2434.7 1765" stroke="#000080"/>
<path d="M302.5 1436C304.1 1434.2 309.1 1431 312 1425C314.9 1419 317.7 1415.8 320 1400C322.3 1384.2 324 1356.7 326 1330C328 1303.3 330 1270 332 1240C334 1210 336.2 1200.6 338 1150C339.8 1099.4 341.1 931.1 343 936.3C344.9 941.5 347.4 1174.1 349.5 1181.3C351.6 1188.5 353.8 978.7 355.7 979.3C357.6 979.9 359.2 1193.7 361 1185C362.8 1176.3 364.4 920 366.2 927.1C368 934.2 370 1238.1 371.9 1227.7C373.8 1217.3 375.6 872.6 377.6 864.6C379.6 856.6 382.1 1169.3 384 1179.5C385.9 1189.7 387.4 930 389.2 926C391 922 392.6 1144.1 394.6 1155.4C396.6 1166.7 399.1 983.6 401 994C402.9 1004.4 404.6 1240.2 406.1 1217.9C407.6 1195.6 408.4 929.6 410 860C411.6 790.4 414 820 416 800C418 780 420.3 756.7 422 740C423.7 723.3 424.8 712.5 426 700C427.2 687.5 428 673.4 429 665C430 656.6 430.7 652.4 432 649.6C433.3 646.8 435.4 647.4 437 648C438.6 648.6 440.2 649.4 441.6 653.5C443 657.6 444.1 665 445.4 672.7C446.7 680.5 447.9 687.1 449.2 700C450.5 712.9 451.7 733.3 453 750C454.3 766.7 455.9 783.3 457 800C458.1 816.7 458.8 829.2 459.5 850C460.2 870.8 460.3 907.3 461.2 925C462.1 942.7 464 935.2 465 956C466 976.8 466.2 1017.7 467 1050C467.8 1082.3 469.1 1123 470 1150C470.9 1177 471.4 1197.5 472.4 1212C473.4 1226.5 474.7 1228.7 476 1237C477.3 1245.3 478.7 1255.7 480 1262C481.3 1268.3 482.2 1273.8 483.6 1274.6C485 1275.4 487.1 1265.9 488.6 1267C490.1 1268.1 491.2 1273 492.4 1281C493.6 1289 494.8 1305.4 496 1315C497.2 1324.6 498.6 1331.9 499.9 1338.7C501.2 1345.5 502 1352.9 503.6 1356C505.2 1359.1 507.9 1356.1 509.8 1357.4C511.7 1358.7 513.1 1361.1 514.8 1363.6C516.5 1366.1 518.3 1369.5 519.8 1372.4C521.3 1375.3 522.4 1382.2 523.6 1381C524.8 1379.8 525.6 1371 527 1365C528.4 1359 529.8 1349.5 532 1345C534.2 1340.5 537 1336.8 540 1338C543 1339.2 546.7 1347.7 550 1352C553.3 1356.3 557.5 1364.8 559.7 1363.6C562 1362.4 562.2 1350.2 563.5 1345C564.8 1339.8 566 1334.8 567.2 1332.5C568.5 1330.2 569.8 1328.9 571 1331C572.2 1333.1 573.7 1339.6 574.7 1345C575.7 1350.4 575.7 1358.6 577.2 1363.6C578.8 1368.6 581 1371.9 584 1375C587 1378.1 590.5 1380.8 595 1382C599.5 1383.2 607.1 1381.5 610.8 1382C614.5 1382.5 615.3 1382.9 617 1385C618.7 1387.1 619.1 1392.8 620.8 1394.8C622.5 1396.8 624.7 1396.6 627 1397C629.3 1397.4 632.4 1395.3 634.5 1397C636.6 1398.7 637.8 1403.7 639.5 1407C641.2 1410.3 642.4 1413.3 644.5 1417C646.6 1420.7 649.7 1425.8 652 1429C654.3 1432.2 656.1 1433.2 658.2 1436C660.3 1438.8 662.8 1442.2 664.5 1446C666.2 1449.8 666.8 1454 668.2 1459C669.7 1464 671.3 1470.1 673.2 1476C675.1 1481.9 677.3 1488.8 679.4 1494.6C681.5 1500.4 683 1507.5 685.7 1510.8C688.4 1514.1 690.7 1514.9 695.6 1514.5C700.5 1514.1 708.6 1512.1 715 1508.5C721.4 1504.9 728.7 1498.2 734 1492.7C739.2 1487.1 742.9 1479 746.6 1475.3C750.3 1471.6 751.9 1465.2 756.1 1470.5C760.3 1475.8 766.7 1491.9 771.9 1506.9C777.2 1521.9 783.6 1549.1 787.8 1560.7C792 1572.3 793.6 1573 797.3 1576.6C801 1580.1 803.6 1583.6 809.9 1582.3C816.3 1580.9 827.9 1569.6 835.3 1568.6C842.6 1567.7 849 1571 854.3 1576.6C859.5 1582.1 862.7 1594.5 866.9 1601.9C871.1 1609.3 874.8 1616.4 879.6 1620.9C884.3 1625.4 890.1 1626.4 895.4 1628.8C900.7 1631.2 904.4 1635.1 911.2 1635.1C918.1 1635.1 927.1 1630.4 936.6 1628.8C946.1 1627.2 957.7 1626.9 968.2 1625.6C978.8 1624.3 989.3 1620.3 999.9 1620.9C1010.4 1621.4 1022 1625.1 1031.5 1628.8C1041 1632.5 1050.5 1638.5 1056.8 1643C1063.2 1647.5 1063.2 1653.1 1069.5 1655.7C1075.8 1658.3 1085.3 1656 1094.8 1658.9C1104.3 1661.8 1115.9 1672.6 1126.5 1673.1C1137 1673.6 1147.6 1667.6 1158.1 1662C1168.7 1656.5 1179.1 1644.4 1189.8 1639.9C1200.5 1635.3 1212.5 1634.2 1222.2 1634.9C1231.8 1635.5 1238 1640.2 1247.5 1643.7C1257 1647.3 1268.6 1652.2 1279.1 1656.4C1289.7 1660.6 1300.2 1665.4 1310.8 1669.1C1321.3 1672.8 1331.9 1675.9 1342.5 1678.6C1353 1681.2 1360.9 1683.4 1374.1 1684.9C1387.3 1686.4 1405.8 1687.7 1421.6 1687.4C1437.4 1687.2 1455.9 1685.3 1469.1 1683.3C1482.3 1681.3 1490.2 1677.1 1500.7 1675.4C1511.3 1673.7 1521.8 1672.3 1532.4 1672.9C1542.9 1673.4 1553.5 1676.3 1564 1678.6C1574.6 1680.8 1582.5 1684.6 1595.7 1686.5C1608.9 1688.3 1624.7 1688.9 1643.2 1689.6C1661.6 1690.4 1685.4 1690.2 1706.5 1691.2C1727.6 1692.3 1744.2 1693.9 1769.8 1696C1795.4 1698.1 1839.2 1701.9 1860 1703.9C1880.9 1705.9 1878.6 1705.5 1895 1708C1911.3 1710.5 1942.5 1715.6 1958.3 1719.1C1974.1 1722.5 1974.1 1726.6 1989.9 1728.6C2005.8 1730.6 2021.6 1730.8 2053.2 1731.1C2084.9 1731.4 2137.7 1730.2 2179.9 1730.2C2222.1 1730.2 2274.8 1730.3 2306.5 1731.1C2338.1 1731.9 2354 1734 2369.8 1734.9C2385.6 1735.8 2390.6 1736.7 2401.5 1736.5C2412.3 1736.2 2429.2 1733.8 2434.7 1733.3" stroke="#800080"/>
<path d="M302.5 1436C304.1 1433.3 309.1 1429.3 312 1420C314.9 1410.7 317.3 1400 320 1380C322.7 1360 325.7 1330 328 1300C330.3 1270 332.2 1258.9 334 1200C335.8 1141.1 337.4 944.3 339 946.8C340.6 949.3 342.1 1209.5 343.6 1214.8C345.2 1220 346.7 980.6 348.3 978.3C349.9 976 351.6 1205.1 353.4 1200.9C355.2 1196.7 357.3 943.1 359.1 953.3C360.9 963.4 362.4 1263.4 364 1261.8C365.6 1260.2 367.3 953 368.9 943.6C370.5 934.2 371.8 1193.6 373.5 1205.7C375.2 1217.8 377.5 1018.2 379.4 1016.4C381.3 1014.6 383.4 1209.3 385.1 1195C386.9 1180.7 388.2 917.7 389.9 930.5C391.6 943.3 394 1275 395.4 1271.6C396.8 1268.2 396.7 971.3 398 910C399.3 848.7 401.7 896.9 403 903.6C404.3 910.3 405.2 933.9 406 950C406.8 966.1 407.3 980.7 408 1000C408.7 1019.3 409.3 1045.7 410 1066C410.7 1086.3 411.3 1099.7 412 1122C412.7 1144.3 413.3 1177 414 1200C414.7 1223 415.3 1244.5 416 1260C416.7 1275.5 417.2 1296.3 418 1293C418.8 1289.7 420 1258.8 421 1240C422 1221.2 422.8 1200 424 1180C425.2 1160 426.7 1136.7 428 1120C429.3 1103.3 430.8 1090 432 1080C433.2 1070 434 1056.7 435 1060C436 1063.3 437 1085 438 1100C439 1115 440 1134.5 441 1150C442 1165.5 442.8 1193 444 1193C445.2 1193 446.7 1165.5 448 1150C449.3 1134.5 450.7 1110 452 1100C453.3 1090 454.5 1092.5 456 1090C457.5 1087.5 459.7 1081.7 461 1085C462.3 1088.3 463 1101.7 464 1110C465 1118.3 465.7 1126.7 467 1135C468.3 1143.3 469.8 1152.5 472 1160C474.2 1167.5 477 1173.3 480 1180C483 1186.7 486.7 1194.2 490 1200C493.3 1205.8 496.3 1212 500 1215C503.7 1218 509.2 1213.3 512 1218C514.8 1222.7 515.3 1234.3 517 1243C518.7 1251.7 520.2 1260.5 522 1270C523.8 1279.5 525.8 1290.8 528 1300C530.2 1309.2 532.6 1317.5 535 1325C537.4 1332.5 540.9 1335.5 542.3 1345C543.5 1354.5 542.9 1369.5 543.5 1382C544.1 1394.5 545 1409.3 546 1419.8C547 1430.2 548.2 1437.4 549.7 1444.7C551.2 1452 552.8 1459.5 554.7 1463.4C556.6 1467.4 558.9 1468.4 561 1468.4C563.1 1468.4 564.9 1466.1 567.2 1463.4C569.5 1460.7 572.4 1455.1 574.7 1452C577 1448.9 579.1 1450.1 581 1444.7C582.9 1439.3 584.2 1428.1 586 1419.8C587.8 1411.5 590.2 1402.1 592 1394.8C593.8 1387.5 595.3 1381.2 597 1376C598.7 1370.8 600.1 1367.1 602 1363.6C603.9 1360.1 606.3 1358.1 608.4 1355C610.5 1351.9 612.5 1348.3 614.6 1345C616.7 1341.7 618.7 1338.2 620.8 1335C622.9 1331.8 625.1 1328.5 627 1326C628.9 1323.5 629.8 1322.7 632 1320C634.2 1317.3 637.7 1312.3 640 1310C642.3 1307.7 644 1306.8 646 1306C648 1305.2 650 1304.7 652 1305C654 1305.3 656 1305.8 658 1308C660 1310.2 661.7 1314.3 664 1318C666.3 1321.7 668.8 1327 672 1330C675.2 1333 679.2 1330.2 683 1336C686.8 1341.8 690.7 1356.6 695 1365C699.3 1373.4 703.7 1379.3 708.6 1386.6C713.5 1393.9 719.2 1399.3 724.5 1408.8C729.7 1418.3 735 1439.4 740.3 1443.6C745.6 1447.8 750.8 1430.9 756.1 1434.1C761.4 1437.3 766.7 1452 771.9 1462.6C777.2 1473.1 782.5 1483.7 787.8 1497.4C793.1 1511.1 798.9 1533.3 803.6 1544.9C808.4 1556.5 809.9 1557.6 816.3 1567.1C822.6 1576.6 832.1 1592.4 841.6 1601.9C851.1 1611.4 862.7 1617.2 873.2 1624C883.8 1630.9 894.3 1636.7 904.9 1643C915.5 1649.4 928.6 1657.3 936.6 1662C944.5 1666.8 945.5 1671 952.4 1671.5C959.2 1672.1 967.2 1664.7 977.7 1665.2C988.3 1665.7 1004.1 1671 1015.7 1674.7C1027.3 1678.4 1036.8 1682.9 1047.4 1687.4C1057.9 1691.8 1068.5 1697.9 1079 1701.6C1089.6 1705.3 1100.1 1708.7 1110.7 1709.5C1121.2 1710.3 1131.8 1708.2 1142.3 1706.3C1152.9 1704.5 1163.4 1700.5 1174 1698.4C1184.5 1696.3 1196 1694.6 1205.6 1693.7C1215.2 1692.7 1222 1693.2 1231.7 1692.8C1241.3 1692.4 1252.8 1693.1 1263.3 1691.2C1273.9 1689.4 1284.4 1684.5 1295 1681.7C1305.5 1679 1316.1 1676.4 1326.6 1674.8C1337.2 1673.2 1345.1 1671.9 1358.3 1672.2C1371.5 1672.6 1389.9 1675.7 1405.8 1677C1421.6 1678.3 1437.4 1679.4 1453.2 1680.2C1469.1 1680.9 1484.9 1680.7 1500.7 1681.7C1516.6 1682.8 1532.4 1684.9 1548.2 1686.5C1564 1688.1 1579.9 1689.4 1595.7 1691.2C1611.5 1693.1 1627.4 1695.2 1643.2 1697.6C1659 1699.9 1674.8 1703.1 1690.7 1705.5C1706.5 1707.9 1722.3 1709.4 1738.1 1711.8C1754 1714.2 1769.8 1717.1 1785.6 1719.7C1801.5 1722.4 1820.2 1725.4 1833.1 1727.6C1846.1 1729.9 1847.7 1731.1 1863.3 1733.3C1878.9 1735.6 1905.5 1738.3 1926.6 1741.2C1947.7 1744.1 1968.8 1747.8 1989.9 1750.7C2011 1753.6 2032.1 1756.5 2053.2 1758.6C2074.3 1760.8 2090.2 1762.1 2116.6 1763.4C2142.9 1764.7 2179.9 1765.8 2211.5 1766.6C2243.2 1767.3 2269.3 1767.3 2306.5 1768.1C2343.7 1768.9 2413.3 1770.8 2434.7 1771.3" stroke="#800000"/>
<path d="M302.5 1436C305.1 1430 314.1 1422.7 318 1400C321.9 1377.3 323.8 1328.3 326 1300C328.2 1271.7 329.3 1248.2 331 1230C332.7 1211.8 334.2 1204.3 336 1191C337.8 1177.7 339.7 1161.8 342 1150C344.3 1138.2 347.3 1131.7 350 1120C352.7 1108.3 355.5 1093.2 358 1080C360.5 1066.8 363 1054.3 365 1041C367 1027.7 368.5 1023.5 370 1000C371.5 976.5 372.8 933.3 374 900C375.2 866.7 376 837.9 377 800C378 762.1 379.4 714.7 380.2 672.7C381 630.7 381.4 574 382 548C382.6 522 383.3 541.4 384 517C384.7 492.6 385.4 435.1 386 401.8C386.6 368.5 386.7 340.2 387.3 317.4C387.9 294.6 388.6 277.6 389.5 265C390.4 252.4 391.8 241.7 392.6 241.7C393.4 241.7 393.9 254.3 394.5 265C395.1 275.7 395.5 283.2 396.5 306C397.5 328.8 399.2 375 400.3 401.8C401.4 428.6 402.3 425.1 403.2 467C404.1 508.9 404.7 609.7 405.5 653.5C406.3 697.3 407.1 704.4 408 730C408.9 755.6 410.2 784.2 411 807C411.8 829.8 411.9 833 412.5 867C413.1 901 414 972.2 414.7 1011C415.4 1049.8 415.9 1077.3 416.5 1100C417.1 1122.7 417.6 1125.3 418.5 1147C419.4 1168.7 421.2 1209.9 422.2 1230C423.2 1250.1 423.9 1254.9 424.7 1267.4C425.5 1279.9 426.4 1292.4 427.2 1304.8C428 1317.2 428.9 1329.5 429.7 1342C430.5 1354.5 431.6 1369.2 432.2 1379.6C432.8 1390 433 1398.4 433.4 1404.6C433.8 1410.8 433.9 1413.3 434.7 1417C435.5 1420.7 437.3 1425 438.4 1427C439.4 1429 439.5 1427.3 441 1429C442.5 1430.7 445.6 1432.3 447.5 1437C449.4 1441.7 451.1 1449.5 452.5 1457C453.9 1464.5 454.6 1472.7 456 1482C457.4 1491.3 459.5 1503.3 461 1513C462.5 1522.7 463.8 1533 465 1540C466.2 1547 466.9 1550.7 468 1555C469.1 1559.3 470 1564.7 471.3 1566C472.6 1567.3 474.4 1567.3 476 1563C477.6 1558.7 479.3 1548.3 481 1540C482.7 1531.7 484.1 1521.7 486 1513C487.9 1504.3 490.1 1495.2 492.4 1488C494.7 1480.8 497.4 1475.1 499.9 1469.6C502.4 1464 504 1458.8 507.3 1454.7C510.6 1450.6 516.9 1449.5 519.8 1444.7C522.7 1439.9 523.1 1433.3 524.8 1426C526.5 1418.7 528.1 1408.3 529.8 1401C531.5 1393.7 532.9 1386.6 534.8 1382C536.7 1377.4 538.5 1376 541 1373.6C543.5 1371.2 547 1368 549.7 1367.4C552.4 1366.8 554.7 1369 557.2 1370C559.7 1371 562.4 1371.6 564.7 1373.6C567 1375.6 568.9 1378.5 571 1382C573.1 1385.5 575.1 1390.6 577.2 1394.8C579.3 1399 581.3 1402.8 583.4 1407C585.5 1411.2 587.3 1416 589.6 1419.8C591.9 1423.6 594.9 1425.5 597 1429.7C599.1 1433.9 600.1 1439.1 602 1444.7C603.9 1450.3 606.3 1458.2 608.4 1463.4C610.5 1468.6 612.5 1471.9 614.6 1476C616.7 1480.1 618.7 1483.9 620.8 1488C622.9 1492.1 624.7 1496.8 627 1500.8C629.3 1504.8 632.4 1508.5 634.5 1512C636.6 1515.5 636.6 1519 639.5 1522C642.4 1525 647.8 1526.8 652 1530C656.2 1533.2 660.7 1537.2 664.5 1541C668.3 1544.8 671.9 1549.7 675 1553C678.1 1556.3 678.8 1557.7 683.3 1561C687.8 1564.3 695.7 1569.4 702 1573C708.3 1576.6 716 1578.6 721.3 1582.9C726.6 1587.2 728.7 1593.4 734 1598.7C739.2 1604 745.6 1608.7 753 1614.5C760.3 1620.3 770.9 1627.7 778.3 1633.5C785.7 1639.3 789.9 1643.6 797.3 1649.4C804.7 1655.2 814.7 1662.8 822.6 1668.4C830.5 1673.9 837.4 1680.8 844.8 1682.6C852.1 1684.4 859 1678.1 866.9 1679.4C874.8 1680.8 883.8 1687.6 892.2 1690.5C900.7 1693.4 910.2 1695.8 917.6 1696.8C924.9 1697.9 929.2 1695.5 936.6 1696.8C943.9 1698.2 954 1701.9 961.9 1704.8C969.8 1707.7 976.7 1710.8 984 1714.3C991.4 1717.7 998.3 1723 1006.2 1725.3C1014.1 1727.7 1022 1727.2 1031.5 1728.5C1041 1729.8 1052.6 1731.7 1063.2 1733.3C1073.7 1734.8 1084.3 1736.7 1094.8 1738C1105.4 1739.3 1115.9 1740.2 1126.5 1741.2C1137 1742.1 1145 1743.4 1158.1 1743.7C1171.3 1744 1189.8 1743.1 1205.6 1742.7C1221.5 1742.4 1243.5 1741.7 1253.1 1741.8C1262.7 1741.9 1253.7 1742.4 1263.3 1743.5C1272.9 1744.5 1295 1747.2 1310.8 1748.2C1326.6 1749.3 1342.5 1750.1 1358.3 1749.8C1374.1 1749.5 1389.9 1747.7 1405.8 1746.6C1421.6 1745.6 1437.4 1743.2 1453.2 1743.5C1469.1 1743.7 1484.9 1746.1 1500.7 1748.2C1516.6 1750.3 1529.7 1754.5 1548.2 1756.1C1566.7 1757.7 1590.4 1758.2 1611.5 1757.7C1632.6 1757.2 1656.4 1754 1674.8 1753C1693.3 1751.9 1706.5 1751.1 1722.3 1751.4C1738.1 1751.6 1751.3 1753 1769.8 1754.5C1788.3 1756.1 1817.5 1759.7 1833.1 1760.9C1848.7 1762.1 1847.7 1760.6 1863.3 1761.8C1878.9 1763 1905.5 1766.6 1926.6 1768.1C1947.7 1769.7 1958.3 1770.5 1989.9 1771.3C2021.6 1772.1 2069.1 1772.4 2116.6 1772.9C2164 1773.4 2221.8 1773.9 2274.8 1774.5C2327.9 1775 2408.1 1775.8 2434.7 1776.1" stroke="#008000"/>
<path d="M303 1465C303.5 1460.8 305 1459.2 306 1440C307 1420.8 308.2 1385 309 1350C309.8 1315 310.4 1265.8 311 1230C311.6 1194.2 312 1157.2 312.5 1135C313 1112.8 313.2 1107.8 314 1097C314.8 1086.2 316.2 1086.2 317 1070C317.8 1053.8 318.5 1025.8 319 1000C319.5 974.2 319.5 947.2 320 915C320.5 882.8 321.2 847.5 322 807C322.8 766.5 324.2 731.5 325 672C325.8 612.5 325.9 497.8 326.5 450C327.1 402.2 327.7 385.5 328.4 385.5C329.1 385.5 329.9 414.2 330.5 450C331.1 485.8 331.5 540.5 332 600C332.5 659.5 332.8 748.7 333.5 807C334.2 865.3 334.9 904.5 336 950C337.1 995.5 338.7 1046.7 340 1080C341.3 1113.3 342.5 1133.3 344 1150C345.5 1166.7 347.2 1188.3 349 1180C350.8 1171.7 353.2 1119.7 355 1100C356.8 1080.3 358.2 1055.3 360 1062C361.8 1068.7 364 1133.7 366 1140C368 1146.3 370 1093.3 372 1100C374 1106.7 376 1156.7 378 1180C380 1203.3 382 1224.4 384 1240C386 1255.6 388 1280.3 389.8 1273.6C391.6 1266.9 393.3 1225.3 395 1200C396.7 1174.7 398.2 1147 400 1122C401.8 1097 404 1066.7 406 1050C408 1033.3 410 1020.3 412 1022C414 1023.7 416 1047 418 1060C420 1073 422 1093.8 424 1100C426 1106.2 428 1087 430 1097C432 1107 433.8 1137.8 436 1160C438.2 1182.2 441.6 1213.2 443.4 1230C445.2 1246.8 445.8 1250.7 447 1261C448.2 1271.3 449.5 1281.6 450.8 1292C452.1 1302.4 453.4 1315.2 454.6 1323.5C455.9 1331.8 456.2 1336.8 458.3 1342C460.4 1347.2 464.1 1350.3 467 1354.7C469.9 1359.1 473.3 1368.4 475.8 1368.4C478.3 1368.4 479.9 1359.1 482 1354.7C484.1 1350.3 486 1345.3 488.2 1342C490.4 1338.7 492.7 1337.4 495 1334.7C497.3 1332 499.5 1334 502 1326C504.5 1318 507.2 1296.7 509.8 1287C512.4 1277.3 514.8 1275 517.3 1268C519.8 1261 522.4 1253.8 525 1245C527.6 1236.2 530.5 1223.3 533 1215C535.5 1206.7 537.8 1200.2 540 1195C542.2 1189.8 544 1181.5 546 1184C548 1186.5 550 1199.8 552 1210C554 1220.2 555.7 1233 558 1245C560.3 1257 562.7 1271.2 566 1282C569.3 1292.8 574.5 1303.7 578 1310C581.5 1316.3 584.4 1317.5 587 1320C589.6 1322.5 590.9 1322.9 593.4 1325C595.9 1327.1 598.9 1328.2 602 1332.5C605.1 1336.8 608.9 1345.8 612 1351C615.1 1356.2 617.9 1360.4 620.8 1363.6C623.7 1366.8 626.8 1367.9 629.5 1370C632.2 1372.1 634.3 1373.5 637 1376C639.7 1378.5 643.3 1381.7 645.8 1385C648.3 1388.3 650 1397.7 652 1396C654 1394.3 655.4 1384.5 658 1375C660.6 1365.5 664.8 1346.7 667.5 1339C670.2 1331.3 671.9 1331.2 674 1329C676.1 1326.8 678 1325.8 680 1326C682 1326.2 683.8 1327.3 686 1330C688.2 1332.7 689.2 1329.9 693 1342C696.8 1354.1 703.4 1379.2 708.6 1402.5C713.9 1425.7 719.2 1457.8 724.5 1481.6C729.7 1505.3 735.5 1528.5 740.3 1544.9C745 1561.3 749.3 1573 753 1579.7C756.6 1586.5 758.2 1586.7 762.5 1585.4C766.7 1584.1 772.5 1578.6 778.3 1571.8C784.1 1565.1 790.9 1552.6 797.3 1544.9C803.6 1537.3 808.9 1531.2 816.3 1525.9C823.7 1520.6 834.2 1515.9 841.6 1513.2C849 1510.6 853.7 1508 860.6 1510.1C867.4 1512.2 875.4 1520.1 882.7 1525.9C890.1 1531.7 898.6 1537 904.9 1544.9C911.2 1552.8 915.5 1564.9 920.7 1573.4C926 1581.8 931.3 1587.1 936.6 1595.5C941.8 1604 947.1 1614.5 952.4 1624C957.7 1633.5 962.9 1645.1 968.2 1652.5C973.5 1659.9 976.1 1662 984 1668.4C992 1674.7 1006.2 1683.9 1015.7 1690.5C1025.2 1697.1 1033.1 1705.4 1041 1707.9C1048.9 1710.5 1054.2 1706 1063.2 1705.7C1072.1 1705.4 1081.6 1705.4 1094.8 1706.3C1108 1707.2 1128.1 1709.6 1142.3 1711.1C1156.6 1712.6 1167.1 1714.7 1180.3 1715.2C1193.5 1715.7 1207.6 1714.6 1221.5 1714.3C1235.3 1714 1248.4 1713.8 1263.3 1713.4C1278.2 1713 1295 1713 1310.8 1711.8C1326.6 1710.6 1342.5 1708.5 1358.3 1706.4C1374.1 1704.3 1389.9 1700.9 1405.8 1699.1C1421.6 1697.4 1434.8 1696.8 1453.2 1696C1471.7 1695.2 1495.5 1696 1516.6 1694.4C1537.7 1692.8 1561.4 1688.1 1579.9 1686.5C1598.3 1684.9 1611.5 1684.9 1627.4 1684.9C1643.2 1684.9 1659 1686 1674.8 1686.5C1690.7 1687 1706.5 1687 1722.3 1688.1C1738.1 1689.1 1746.3 1690.5 1769.8 1692.8C1793.3 1695.1 1837.2 1698.6 1863.3 1701.7C1889.4 1704.7 1905.5 1708.3 1926.6 1711.2C1947.7 1714.1 1968.8 1716.4 1989.9 1719.1C2011 1721.7 2032.1 1724.6 2053.2 1727C2074.3 1729.4 2095.5 1731.2 2116.6 1733.3C2137.7 1735.4 2158.8 1737.8 2179.9 1739.6C2201 1741.5 2222.1 1743.1 2243.2 1744.4C2264.3 1745.7 2285.4 1747 2306.5 1747.6C2327.6 1748.1 2348.4 1747.3 2369.8 1747.6C2391.2 1747.8 2423.9 1748.9 2434.7 1749.1" stroke="#008080"/>
<path d="M302.5 1436C305.1 1433.3 314.1 1426 318 1420C321.9 1414 323.7 1420 326 1400C328.3 1380 330.2 1343.1 332 1300C333.8 1256.9 335.4 1206.6 337 1141.2C338.6 1075.8 340.3 897.4 341.9 907.5C343.5 917.6 345 1220.1 346.7 1201.8C348.4 1183.5 350.2 818.7 352 797.9C353.8 777.1 355.7 1066.8 357.5 1076.9C359.3 1087 361.2 847 362.9 858.5C364.6 870 365.9 1150.8 367.7 1146.2C369.5 1141.7 371.9 821.2 373.8 831.2C375.7 841.2 376.9 1194.3 378.8 1206.4C380.7 1218.5 383.1 917.7 385 903.9C386.9 890.1 388.7 1134.8 390.4 1123.8C392.1 1112.8 392.7 885.5 395.1 837.9C397.5 790.3 402.1 852.8 405 838C407.9 823.2 410.9 776.5 412.8 749C414.7 721.5 415.5 689.7 416.6 672.7C417.7 655.7 418.6 646.8 419.5 646.8C420.4 646.8 421.2 658.8 422 672.7C422.8 686.6 423 710.8 424 730C425 749.2 426.3 769.7 427.8 788C429.3 806.3 431.4 843.2 433 840C434.6 836.8 436.3 793.3 437.7 768.6C439.1 743.9 440.6 717.4 441.6 691.8C442.6 666.2 442.9 642 443.5 615C444.1 588 444.8 552.7 445.4 530C446 507.3 446.5 500 447.3 478.6C448.1 457.2 449.3 424.2 450.2 401.8C451.1 379.4 451.9 344.3 452.7 344.3C453.5 344.3 453.9 382.9 455 402C456.1 421.1 457.7 442.7 459 459C460.3 475.3 461.6 483.2 462.7 500C463.8 516.8 464.6 540 465.5 560C466.4 580 467.4 596.7 468 620C468.6 643.3 468.6 672.1 469.3 700C470 727.9 471.2 762.4 472.4 787.3C473.5 812.2 474.9 830.9 476.2 849.6C477.4 868.3 478.9 887.8 479.9 899.5C480.9 911.2 481.7 913.1 482.4 920C483.1 926.9 483.3 941 484 941C484.7 941 485.6 927.5 486.5 920C487.4 912.5 488.3 908.8 489.5 896C490.7 883.2 492.3 850.2 493.6 843.4C494.9 836.6 496.3 851.1 497.5 855C498.7 858.9 499.8 862.9 501 867C502.2 871.1 503.8 882.5 504.8 879.6C505.9 876.7 506.5 865 507.3 849.6C508.1 834.2 509 801.3 509.8 787C510.6 772.7 511 763.6 512.3 763.6C513.5 763.6 515.8 776.8 517.3 787C518.8 797.2 520 813.9 521 824.7C522 835.6 522.8 854.2 523.6 852.1C524.4 850 525.2 829 526 812C526.8 795 527.7 768.6 528.5 749.9C529.3 731.2 530.1 718.3 531 700C531.9 681.7 533 656.7 534 640C535 623.3 535.9 610.4 537 600C538.1 589.6 539.4 574.4 540.4 577.7C541.4 581 542.1 599.6 543 620C543.9 640.4 544.9 678.3 546 700C547.1 721.7 548.7 733.3 549.7 750C550.7 766.7 551.4 783.3 552.2 800C553 816.7 553.9 833.3 554.7 850C555.5 866.7 556.6 885.5 557.2 900C557.8 914.5 558 922.5 558.5 937C559 951.5 559.5 971.3 560 987C560.5 1002.7 560.9 1028.8 561.6 1031C562.3 1033.2 563.1 1009.4 564 1000C564.9 990.6 565.8 981.8 567 974.8C568.2 967.8 569.7 962.1 571 958C572.3 953.9 573.5 951.8 575 950C576.5 948.2 578.1 946.4 579.7 947.4C581.3 948.4 583.1 951.4 584.7 956C586.4 960.6 587.7 963.3 589.6 974.8C591.5 986.2 593.9 1008.1 595.9 1024.7C597.9 1041.3 600.1 1057.9 601.5 1074.6C602.9 1091.3 603.7 1111.4 604.5 1125C605.3 1138.6 605.9 1145 606.5 1156C607.1 1167 607.5 1191 608.4 1191C609.3 1191 611 1167.8 612 1156C613 1144.2 613.9 1131.4 614.6 1120C615.3 1108.6 615.3 1099.5 616.1 1087.8C616.9 1076.1 618.4 1064.3 619.6 1049.6C620.8 1034.9 622.1 1016.4 623.3 999.8C624.5 983.2 625.8 966.6 627 950C628.2 933.4 629.5 920.9 630.8 900C632 879.1 633.2 845.6 634.5 824.7C635.8 803.8 637 789.3 638.3 774.8C639.5 760.2 640.6 749.9 642 737.4C643.4 724.9 645.3 709.6 646.5 700C647.7 690.4 648.1 685.2 649 680C649.9 674.8 650.7 668.8 651.6 668.8C652.5 668.8 653.6 674.8 654.5 680C655.4 685.2 655.8 690.4 657 700C658.2 709.6 660.1 722.9 662 737.4C663.9 751.9 666.3 770.7 668.2 787.3C670.1 803.9 670.7 819.4 673.2 837.2C675.7 855 680 872.5 683.3 894.1C686.6 915.7 690.2 947.4 692.8 966.9C695.4 986.4 697 1001.7 699.1 1011.2C701.2 1020.7 703.4 1016.5 705.5 1023.9C707.6 1031.3 709.2 1046.6 711.8 1055.5C714.4 1064.5 718.1 1066.6 721.3 1077.7C724.5 1088.8 728.4 1109.4 730.8 1122C733.2 1134.7 732.4 1141.8 735.5 1153.7C738.7 1165.6 745.3 1185.6 749.8 1193.3C754.3 1200.9 757.2 1196.4 762.5 1199.6C767.7 1202.7 775.6 1207.1 781.4 1212.2C787.2 1217.4 793.6 1230 797.3 1230.3C801 1230.6 801.5 1227.7 803.6 1213.8C805.7 1200 807.6 1167.4 809.9 1147.4C812.3 1127.3 814.7 1106.7 817.8 1093.5C821 1080.3 825 1074.1 828.9 1068.2C832.9 1062.3 837.9 1058.1 841.6 1058.1C845.3 1058.1 847.9 1062.8 851.1 1068.2C854.3 1073.6 856.9 1084.3 860.6 1090.4C864.3 1096.4 869 1100.9 873.2 1104.6C877.5 1108.3 882.2 1108.6 885.9 1112.5C889.6 1116.5 892.2 1118.9 895.4 1128.4C898.6 1137.9 900.2 1141.2 904.9 1169.5C909.6 1197.8 918.6 1265 923.9 1298C929.2 1331 932.3 1348.6 936.6 1367.6C940.8 1386.6 943.9 1400.9 949.2 1411.9C954.5 1423 962.4 1427.5 968.2 1434.1C974 1440.7 976.1 1444.9 984 1451.5C992 1458.1 1007.8 1466.6 1015.7 1473.7C1023.6 1480.8 1025.2 1484.5 1031.5 1494.3C1037.9 1504 1047.4 1525 1053.7 1532.2C1060 1539.5 1063.7 1537.1 1069.5 1537.9C1075.3 1538.7 1082.2 1535.2 1088.5 1537C1094.8 1538.8 1101.7 1546.6 1107.5 1548.7C1113.3 1550.8 1117.5 1546.3 1123.3 1549.6C1129.1 1553 1136.5 1561.5 1142.3 1568.6C1148.1 1575.8 1152.3 1586.8 1158.1 1592.4C1163.9 1597.9 1169.2 1601.4 1177.1 1601.9C1185.1 1602.4 1196.5 1595.4 1205.6 1595.5C1214.7 1595.7 1222 1597.2 1231.7 1602.6C1241.3 1608 1253.8 1621.2 1263.3 1627.9C1272.8 1634.7 1279.7 1641 1288.6 1643.1C1297.6 1645.2 1309.2 1643.1 1317.1 1640.6C1325 1638.1 1329.3 1633.7 1336.1 1627.9C1343 1622.1 1349.3 1615.3 1358.3 1605.8C1367.2 1596.3 1380.4 1579.3 1389.9 1570.9C1399.4 1562.6 1403.7 1559.7 1415.3 1555.7C1426.9 1551.8 1448 1550.4 1459.6 1547.2C1471.2 1544 1475.4 1539.5 1484.9 1536.8C1494.4 1534 1508.1 1530.8 1516.6 1530.4C1525 1530.1 1527.6 1530.9 1535.5 1534.5C1543.5 1538.1 1551.4 1540.1 1564 1551.9C1576.7 1563.8 1599.4 1592.6 1611.5 1605.8C1623.7 1619 1628.9 1623.3 1636.8 1631.1C1644.8 1638.8 1650 1649.7 1659 1652.3C1668 1654.9 1680.1 1649.1 1690.7 1646.9C1701.2 1644.7 1711.8 1640.8 1722.3 1639C1732.9 1637.2 1743.4 1635.8 1754 1635.8C1764.5 1635.8 1775.8 1637.9 1785.6 1639C1795.4 1640.1 1805 1642.4 1812.7 1642.5C1820.3 1642.5 1823.2 1640.3 1831.7 1639.3C1840.1 1638.4 1847.5 1636.8 1863.3 1636.8C1879.1 1636.8 1910.8 1636.1 1926.6 1639.3C1942.5 1642.5 1947.7 1650.1 1958.3 1655.8C1968.8 1661.4 1980.4 1668.2 1989.9 1673.2C1999.4 1678.2 2004.7 1683 2015.3 1685.8C2025.8 1688.6 2039 1688.6 2053.2 1689.9C2067.5 1691.3 2087.5 1693.9 2100.7 1693.7C2113.9 1693.6 2119.2 1689.5 2132.4 1689C2145.6 1688.5 2167.7 1689.5 2179.9 1690.6C2192 1691.6 2194.6 1694.7 2205.2 1695.3C2215.7 1696 2230.5 1693.3 2243.2 1694.4C2255.8 1695.4 2265.3 1700.3 2281.2 1701.7C2297 1703 2318.1 1702.2 2338.1 1702.6C2358.2 1703 2385.4 1703.5 2401.5 1703.9C2417.5 1704.2 2429.2 1704.7 2434.7 1704.8" stroke="#00009c"/>
<path d="M302.5 1436C304.1 1433.3 309.1 1429.3 312 1420C314.9 1410.7 317.7 1408.3 320 1380C322.3 1351.7 324.3 1296.7 326 1250C327.7 1203.3 328.7 1149.5 330 1100C331.3 1050.5 333 989.7 334 953C335 916.3 335.3 899.2 336 880C336.7 860.8 337.2 834.7 338 838C338.8 841.3 339.8 873 341 900C342.2 927 343.5 970 345 1000C346.5 1030 348.2 1080 350 1080C351.8 1080 354 1023.3 356 1000C358 976.7 360 956.7 362 940C364 923.3 366.2 907.3 368 900C369.8 892.7 371.1 880.7 372.5 896C373.9 911.3 375.1 966.3 376.3 992C377.6 1017.7 378.6 1052 380 1050C381.4 1048 383.3 1011.7 385 980C386.7 948.3 388.5 900 390 860C391.5 820 392.8 773.3 394 740C395.2 706.7 396.4 681.3 397.5 660C398.6 638.7 399.5 612.2 400.3 612.2C401.1 612.2 401.7 645.4 402.5 660C403.3 674.6 404.2 726.7 405 700C405.8 673.3 406.2 546.7 407 500C407.8 453.3 408.9 443.7 410 420C411.1 396.3 412.6 363.9 413.7 357.7C414.8 351.5 415.5 365.8 416.6 382.7C417.7 399.6 419.5 439.8 420.5 459.4C421.5 478.9 421.8 480.4 422.4 500C423 519.5 423.7 551.1 424.3 576.7C424.9 602.3 425.6 628 426.2 653.5C426.8 679 427 707.6 428 730C429 752.4 430.9 766.1 432 787.8C433.1 809.5 433.9 876 434.5 860C435.1 844 435.3 729.5 435.8 691.8C436.3 654.1 436.7 652.5 437.7 634C438.7 615.5 440.4 584.6 441.6 580.6C442.8 576.6 443.7 602.6 445 610C446.3 617.4 448 628 449.2 624.7C450.4 621.4 451 602.1 452 590C453 577.9 453.9 550.8 455 551.8C456.1 552.8 457.5 579 458.8 596C460.1 613 461.7 637.5 462.7 653.5C463.7 669.5 464 667.8 464.6 691.8C465.2 715.8 465.3 787.6 466.2 797.3C467.1 807 468.8 765.6 470 750C471.2 734.4 472.5 703.7 473.7 703.7C474.9 703.7 476.1 733.9 477.4 749.9C478.6 765.9 480.2 783.2 481.2 799.8C482.2 816.4 482.9 832.9 483.6 849.6C484.3 866.3 484.9 885.4 485.5 900C486.1 914.6 486.5 924.9 487.4 937.4C488.3 949.9 490 962.4 491 974.8C492 987.2 492.8 1001.6 493.6 1012C494.4 1022.4 494.9 1026.6 496 1037C497.1 1047.4 498.8 1065.3 499.9 1074.6C501 1083.9 501.4 1093 502.4 1093C503.4 1093 504.8 1080.8 506 1074.6C507.2 1068.4 507.9 1062.3 509.8 1056C511.7 1049.7 515.2 1039.1 517.3 1037C519.4 1034.9 520.6 1040.2 522.3 1043.4C524 1046.6 525.8 1050.8 527.3 1056C528.8 1061.2 530.3 1067.3 531.5 1074.6C532.7 1081.8 533.7 1091.1 534.5 1099.5C535.3 1107.9 535.8 1116.6 536.5 1125C537.2 1133.4 537.5 1137.5 538.5 1150C539.5 1162.5 541 1183.2 542.3 1199.8C543.5 1216.4 544.8 1235.1 546 1249.6C547.2 1264.1 548.7 1275.3 549.7 1287C550.7 1298.7 551.2 1310.3 552.2 1320C553.2 1329.7 554.8 1336.7 556 1345C557.2 1353.3 558.5 1361.7 559.7 1370C561 1378.3 562.2 1386.5 563.5 1394.8C564.8 1403.1 565.8 1413.6 567.2 1419.8C568.7 1426 570.7 1427.8 572.2 1432C573.7 1436.2 575 1440.9 576 1444.7C577 1448.5 577.2 1453 578.4 1454.7C579.6 1456.4 581.7 1456.4 583.4 1454.7C585.1 1453 587 1448.9 588.4 1444.7C589.8 1440.5 590.6 1433.7 592 1429.7C593.4 1425.8 595.1 1421.6 597 1421C598.9 1420.4 601.7 1422 603.4 1426C605.1 1430 605.6 1437.4 607 1444.7C608.4 1452 610.3 1460.2 612 1469.6C613.7 1478.9 615.5 1492.5 617 1500.8C618.5 1509.1 619.5 1512.3 621 1519.5C622.5 1526.7 623.3 1535.8 625.7 1544C628.1 1552.2 632.1 1562.7 635.3 1569C638.5 1575.3 641.2 1578.8 645 1582C648.8 1585.2 654.8 1588.9 658.3 1588C661.8 1587.1 663.4 1582.2 666 1576.5C668.6 1570.8 670.8 1561.8 673.7 1553.5C676.6 1545.2 680.5 1535.8 683.3 1527C686.1 1518.2 688.1 1508.9 690.7 1500.8C693.3 1492.7 695.5 1484.9 699 1478.4C702.5 1471.9 706.5 1464.1 711.8 1462C717.1 1459.9 725.5 1462.5 730.8 1465.8C736.1 1469 738.7 1472.6 743.5 1481.6C748.2 1490.6 754.5 1508.2 759.3 1519.6C764 1530.9 768.3 1545.4 771.9 1549.6C775.6 1553.9 778.3 1547.8 781.4 1544.9C784.6 1542 787.2 1531.2 790.9 1532.2C794.6 1533.3 798.9 1542.3 803.6 1551.2C808.4 1560.2 814.2 1577.6 819.4 1586.1C824.7 1594.5 830 1597.9 835.3 1601.9C840.5 1605.8 845.8 1609 851.1 1609.8C856.4 1610.6 860.6 1602.7 866.9 1606.6C873.2 1610.6 881.7 1629.8 889.1 1633.5C896.5 1637.2 904.9 1627.7 911.2 1628.8C917.6 1629.8 921.3 1635.4 927.1 1639.9C932.9 1644.4 940.2 1651.5 946.1 1655.7C951.9 1659.9 956.6 1663.7 961.9 1665.2C967.2 1666.7 971.4 1665.9 977.7 1664.6C984 1663.2 992.5 1657.2 999.9 1657.3C1007.3 1657.4 1014.6 1662.3 1022 1665.2C1029.4 1668.1 1037.3 1672.6 1044.2 1674.7C1051 1676.8 1056.8 1675.7 1063.2 1677.9C1069.5 1680 1074.8 1683.9 1082.2 1687.4C1089.6 1690.8 1100.1 1697.4 1107.5 1698.4C1114.9 1699.5 1120.2 1693.9 1126.5 1693.7C1132.8 1693.4 1139.2 1694.7 1145.5 1696.8C1151.8 1699 1157.1 1705.6 1164.5 1706.3C1171.9 1707.1 1180.3 1702.9 1189.8 1701.6C1199.3 1700.3 1211.8 1698 1221.5 1698.4C1231.1 1698.8 1235.2 1701.9 1247.5 1703.9C1259.7 1705.9 1279.1 1707.9 1295 1710.2C1310.8 1712.6 1327.7 1715.6 1342.5 1718.1C1357.2 1720.7 1370.4 1725.4 1383.6 1725.4C1396.8 1725.4 1410 1718.6 1421.6 1718.1C1433.2 1717.7 1440.1 1722.6 1453.2 1722.9C1466.4 1723.2 1487.5 1721.8 1500.7 1719.7C1513.9 1717.6 1519.2 1713.1 1532.4 1710.2C1545.6 1707.3 1566.7 1702.6 1579.9 1702.3C1593.1 1702 1601 1706.3 1611.5 1708.6C1622.1 1711 1632.6 1714.2 1643.2 1716.6C1653.7 1718.9 1664.3 1721.6 1674.8 1722.9C1685.4 1724.2 1693.3 1725 1706.5 1724.5C1719.7 1723.9 1738.1 1720 1754 1719.7C1769.8 1719.5 1788.5 1721.1 1801.5 1722.9C1814.4 1724.6 1821.3 1727.9 1831.7 1730.2C1842 1732.4 1852.8 1734.9 1863.3 1736.5C1873.9 1738.1 1879.1 1738.6 1895 1739.6C1910.8 1740.7 1937.2 1742 1958.3 1742.8C1979.4 1743.6 2000.5 1743.3 2021.6 1744.4C2042.7 1745.5 2063.8 1747.8 2084.9 1749.1C2106 1750.5 2121.8 1751.5 2148.2 1752.3C2174.6 1753.1 2211.5 1753.4 2243.2 1753.9C2274.8 1754.4 2314.4 1755.7 2338.1 1755.5C2361.9 1755.2 2369.5 1752.6 2385.6 1752.3C2401.7 1752 2426.5 1753.6 2434.7 1753.9" stroke="#ff8000"/>
<path d="M302.5 1435C304.1 1429.2 309.1 1415.8 312 1400C314.9 1384.2 317.7 1365 320 1340C322.3 1315 324.3 1273.8 326 1250C327.7 1226.2 328.3 1216.2 330 1197C331.7 1177.8 334.3 1167.8 336 1135C337.7 1102.2 338.7 1051.5 340 1000C341.3 948.5 342.8 883.8 343.7 826C344.6 768.2 345 694.5 345.6 653C346.2 611.5 346.9 597.7 347.5 577C348.1 556.3 348.6 533.8 349.5 529C350.4 524.2 351.9 544.3 353 548C354.1 551.7 355.2 543 356.2 551C357.2 559 358.4 579 359 596C359.6 613 359.5 625.7 360 653C360.5 680.3 361.3 722.2 362 760C362.7 797.8 363 840 364 880C365 920 366.7 1000 368 1000C369.3 1000 370.7 920 372 880C373.3 840 374.7 794.5 376 760C377.3 725.5 378.5 695 380 673C381.5 651 383.7 628 385 628C386.3 628 387.2 656 388 673C388.8 690 389.3 700.5 390 730C390.7 759.5 391.3 813.3 392 850C392.7 886.7 393.2 923.3 394 950C394.8 976.7 395.8 983.3 397 1010C398.2 1036.7 399.8 1085 401 1110C402.2 1135 402.5 1145 404 1160C405.5 1175 408 1188.3 410 1200C412 1211.7 414.3 1230 416 1230C417.7 1230 418 1213.3 420 1200C422 1186.7 425 1173.3 428 1150C431 1126.7 435.2 1068.3 438 1060C440.8 1051.7 443 1079.8 445 1100C447 1120.2 448.3 1166.8 450 1181C451.7 1195.2 453 1195.2 455 1185C457 1174.8 459.5 1143 462 1120C464.5 1097 467.7 1067 470 1047C472.3 1027 474.7 1012 476 1000C477.3 988 476.9 981.3 478 975C479.1 968.7 481.1 962.4 482.4 962.4C483.7 962.4 484.7 966.9 486 975C487.3 983.1 488.8 998.5 490 1011C491.2 1023.5 492 1035.2 493 1050C494 1064.8 494.9 1085.5 496 1100C497.1 1114.5 498.2 1126.7 499.9 1137C501.6 1147.3 504.1 1151.5 506 1162C507.9 1172.5 509.1 1191 511 1199.8C512.9 1208.6 515.6 1210.5 517.3 1214.7C519 1218.9 520 1216.8 521 1224.7C522 1232.6 522.6 1249.5 523.6 1262C524.6 1274.5 526.3 1289.8 527.3 1299.5C528.3 1309.2 529 1312.4 529.8 1320C530.6 1327.6 531 1337.7 532.3 1345C533.5 1352.3 535 1359 537.3 1363.6C539.6 1368.2 543.5 1368.2 546 1372.4C548.5 1376.6 550.5 1382.8 552.2 1388.6C553.9 1394.4 555 1402.4 556 1407C557 1411.6 557 1417 558.5 1416C560 1415 562.6 1405.6 564.7 1401C566.8 1396.4 568.9 1391.3 571 1388.6C573.1 1385.9 575.1 1387.5 577.2 1385C579.3 1382.5 581.3 1375.3 583.4 1373.6C585.5 1371.9 587.5 1373.9 590 1375C592.5 1376.1 595.8 1376.7 598.4 1380C601 1383.3 603.6 1389.2 605.9 1394.8C608.2 1400.4 610.1 1408.7 612 1413.5C613.9 1418.3 615.1 1420.4 617 1423.5C618.9 1426.6 621.2 1428.5 623.3 1432C625.4 1435.5 627.2 1440.7 629.5 1444.7C631.8 1448.7 634.5 1456.8 637 1456C639.5 1455.2 642.4 1442.9 644.5 1439.7C646.6 1436.5 647.6 1436.2 649.5 1437C651.4 1437.8 653.6 1444.5 655.7 1444.7C657.8 1445 659.9 1441 662 1438.5C664.1 1436 666.5 1432.8 668.2 1429.7C669.9 1426.6 671 1424.6 672 1419.8C673 1415 673.6 1406 674.4 1401C675.2 1396 675.7 1392.3 677 1389.8C678.3 1387.3 680.1 1385.6 682 1386C683.9 1386.4 684.8 1383.5 688.2 1392C691.6 1400.5 697.8 1428.9 702.3 1437.3C706.8 1445.6 710.2 1443.6 715 1442C719.7 1440.4 724.5 1431.5 730.8 1427.8C737.1 1424.1 746.1 1421.2 753 1419.9C759.8 1418.5 765.6 1418.5 771.9 1419.9C778.3 1421.2 784.6 1423.8 790.9 1427.8C797.3 1431.7 803.1 1438.1 809.9 1443.6C816.8 1449.1 826.3 1458.9 832.1 1461C837.9 1463.1 839.5 1453.6 844.8 1456.3C850 1458.9 853.7 1472.4 863.7 1476.8C873.8 1481.3 890.1 1480.8 904.9 1483.2C919.7 1485.5 936.6 1489 952.4 1491.1C968.2 1493.2 984 1492.9 999.9 1495.8C1015.7 1498.7 1034.2 1505.1 1047.4 1508.5C1060.5 1511.9 1069.5 1514.1 1079 1516.4C1088.5 1518.7 1096.4 1524.7 1104.3 1522.1C1112.2 1519.5 1118.6 1506.3 1126.5 1500.6C1134.4 1494.9 1143.9 1489.9 1151.8 1487.9C1159.7 1485.9 1165 1485.7 1174 1488.6C1182.9 1491.5 1196 1499 1205.6 1505.3C1215.2 1511.7 1222 1518.1 1231.7 1526.6C1241.3 1535.2 1250.1 1549 1263.3 1556.7C1276.5 1564.3 1296.5 1568.6 1310.8 1572.5C1325 1576.5 1335.6 1578.3 1348.8 1580.4C1362 1582.5 1375.2 1583.1 1389.9 1585.2C1404.7 1587.3 1421.6 1589.9 1437.4 1593.1C1453.2 1596.3 1469.1 1601.5 1484.9 1604.2C1500.7 1606.8 1516.6 1607.7 1532.4 1608.9C1548.2 1610.1 1565.6 1611.2 1579.9 1611.5C1594.1 1611.7 1607.3 1612 1617.9 1610.5C1628.4 1609 1633.7 1605.5 1643.2 1602.6C1652.7 1599.7 1664.3 1595.7 1674.8 1593.1C1685.4 1590.5 1695.9 1588.1 1706.5 1586.8C1717 1585.4 1725 1584.9 1738.1 1585.2C1751.3 1585.4 1769.8 1586.9 1785.6 1588.4C1801.5 1589.8 1820.2 1592.3 1833.1 1593.7C1846.1 1595.2 1850.4 1594.8 1863.3 1597.2C1876.3 1599.6 1895 1604.1 1910.8 1608.3C1926.6 1612.5 1942.5 1618.3 1958.3 1622.5C1974.1 1626.7 1986.2 1628.9 2005.8 1633.6C2025.3 1638.4 2056.9 1646.2 2075.4 1651C2093.9 1655.9 2101.8 1658.5 2116.6 1662.7C2131.3 1666.9 2148.2 1672.2 2164 1676.3C2179.9 1680.5 2198.3 1686.6 2211.5 1687.4C2224.7 1688.2 2232.6 1682.4 2243.2 1681.1C2253.7 1679.8 2264.3 1679.2 2274.8 1679.5C2285.4 1679.8 2295.9 1681.1 2306.5 1682.7C2317 1684.3 2327.6 1686.4 2338.1 1689C2348.7 1691.6 2359.2 1695.5 2369.8 1698.5C2380.4 1701.5 2394.1 1705.3 2401.5 1707C2408.8 1708.8 2408.6 1708.8 2414.1 1708.9C2419.7 1709.1 2431.3 1708.2 2434.7 1708" stroke="#8000ff"/>
<path d="M302.5 1436C303.5 1435 306.2 1439.3 308.7 1430C311.2 1420.7 314.9 1400.8 317.4 1380C319.9 1359.2 322 1330 323.7 1305C325.4 1280 326.6 1296.3 327.4 1230C328.2 1163.7 327.8 937.4 328.4 907.4C329 877.4 330.1 1011.2 331 1050C331.9 1088.8 333 1140 334 1140C335 1140 336 1090 337 1050C338 1010 338.9 950.1 340 900C341.1 849.9 342.4 784.1 343.7 749.4C344.9 714.7 346.1 707.1 347.5 691.8C348.9 676.4 351.1 652.6 352.4 657.3C353.6 662 354.1 679.5 355 720C355.9 760.5 357 836.7 358 900C359 963.3 360.2 1058.3 361 1100C361.8 1141.7 362.2 1166.7 363 1150C363.8 1133.3 365 1058.3 366 1000C367 941.7 367.8 856.8 369 800C370.2 743.2 372.3 674 373.5 659.2C374.7 644.4 375.5 689.5 376.3 711C377.1 732.5 377.4 748.2 378.2 788C379 827.8 380 898 381 950C382 1002 382.8 1058.3 384 1100C385.2 1141.7 386.2 1177.5 388 1200C389.8 1222.5 393.1 1243.3 394.8 1235C396.5 1226.7 397 1180.8 398 1150C399 1119.2 400 1075 401 1050C402 1025 403 991.7 404 1000C405 1008.3 406.1 1069.2 407 1100C407.9 1130.8 408.5 1185 409.7 1185C410.9 1185 412.4 1130.8 414 1100C415.6 1069.2 417.5 1025 419 1000C420.5 975 421.7 950 423 950C424.3 950 425.8 981.7 427 1000C428.2 1018.3 429 1060 430 1060C431 1060 431.7 1020 433 1000C434.3 980 436.6 952.5 437.7 940C438.8 927.5 438.5 922.8 439.5 925C440.5 927.2 442.1 937.2 443.5 953C444.9 968.8 446.2 995.5 448 1020C449.8 1044.5 451.8 1095.5 454 1100C456.2 1104.5 459 1062 461 1047C463 1032 464.5 1007.8 466 1010C467.5 1012.2 468.3 1039.2 470 1060C471.7 1080.8 473.7 1111.7 476 1135C478.3 1158.3 481.3 1184.2 484 1200C486.7 1215.8 489.3 1228.3 492 1230C494.7 1231.7 497.3 1218.3 500 1210C502.7 1201.7 505.3 1187.5 508 1180C510.7 1172.5 512.8 1168 516 1165C519.2 1162 523.9 1154.2 527 1162C530.1 1169.8 532.9 1199.5 534.8 1212C536.7 1224.5 537.2 1224.5 538.5 1237C539.8 1249.5 541.2 1273.2 542.3 1287C543.3 1300.8 544.2 1310.3 544.8 1320C545.4 1329.7 545.2 1339.8 546 1345C546.8 1350.2 548.7 1353.1 549.7 1351C550.7 1348.9 551.2 1337.7 552.2 1332.5C553.2 1327.3 554.7 1325.4 556 1320C557.3 1314.6 558.6 1305 560 1300C561.4 1295 562.6 1290 564.3 1290C566 1290 568 1295 570 1300C572 1305 574.4 1313.5 576 1320C577.6 1326.5 578.5 1331.4 579.7 1338.7C580.9 1346 582.2 1356.4 583.4 1363.6C584.6 1370.8 585.7 1375.8 587 1382C588.3 1388.2 589.7 1395.8 591 1401C592.3 1406.2 593.6 1412.5 594.6 1413.5C595.6 1414.5 594.9 1409.1 597 1407C599.1 1404.9 604.5 1403 607 1401C609.5 1399 610.3 1394.8 612 1394.8C613.7 1394.8 615.3 1399 617 1401C618.7 1403 620.3 1408 622 1407C623.7 1406 625.5 1399.3 627 1394.8C628.5 1390.3 629.3 1383.1 630.8 1380C632.3 1376.9 634.1 1374.6 635.8 1376C637.5 1377.4 639.1 1383.8 640.8 1388.6C642.5 1393.4 644.1 1400.4 645.8 1404.8C647.4 1409.2 649.2 1415.4 650.7 1414.8C652.2 1414.2 653.2 1407.5 654.5 1401C655.8 1394.5 657 1384.3 658.2 1376C659.5 1367.7 660.8 1358.2 662 1351C663.2 1343.8 664.5 1337.7 665.7 1332.5C667 1327.3 668.2 1325.5 669.5 1320C670.8 1314.5 672 1306 673.2 1299.5C674.5 1293 675.5 1285.2 677 1281C678.5 1276.8 680.2 1273.8 682 1274.6C683.8 1275.4 685.9 1286 688 1286C690.1 1286 692.4 1277.9 694.4 1274.6C696.4 1271.3 698.1 1267.9 700 1266C701.9 1264.1 701.4 1259.3 705.5 1263C709.6 1266.7 718.7 1277.4 724.5 1288.5C730.3 1299.6 735.5 1313.3 740.3 1329.6C745 1346 748.7 1367.6 753 1386.6C757.2 1405.6 761.4 1422.5 765.6 1443.6C769.8 1464.7 774.1 1493.7 778.3 1513.2C782.5 1532.8 785.7 1550.2 790.9 1560.7C796.2 1571.3 804.1 1573.7 809.9 1576.6C815.7 1579.5 820.5 1578.9 825.8 1578.1C831 1577.3 835.3 1572.3 841.6 1571.8C847.9 1571.3 856.9 1578.4 863.7 1575C870.6 1571.5 875.9 1559.9 882.7 1551.2C889.6 1542.5 898 1530.1 904.9 1522.7C911.8 1515.4 917.6 1509.3 923.9 1506.9C930.2 1504.5 935.5 1505.9 942.9 1508.5C950.3 1511.1 960.3 1516.7 968.2 1522.7C976.1 1528.8 983.5 1537 990.4 1544.9C997.2 1552.8 1002.5 1561.3 1009.4 1570.2C1016.2 1579.2 1022.6 1589.7 1031.5 1598.7C1040.5 1607.7 1052.6 1619.3 1063.2 1624C1073.7 1628.8 1081.6 1626.4 1094.8 1627.2C1108 1628 1129.1 1627.2 1142.3 1628.8C1155.5 1630.4 1163.4 1632.2 1174 1636.7C1184.5 1641.2 1196 1648.7 1205.6 1655.7C1215.2 1662.7 1222 1672.4 1231.7 1678.6C1241.3 1684.8 1252.8 1689.1 1263.3 1692.8C1273.9 1696.5 1284.4 1699 1295 1700.7C1305.5 1702.5 1316.1 1703.8 1326.6 1703.3C1337.2 1702.7 1347.7 1699 1358.3 1697.6C1368.8 1696.1 1376.7 1694.7 1389.9 1694.4C1403.1 1694.1 1421.6 1694.9 1437.4 1696C1453.2 1697 1469.1 1698.8 1484.9 1700.7C1500.7 1702.7 1519.2 1707.7 1532.4 1707.7C1545.6 1707.7 1553.5 1703.7 1564 1700.7C1574.6 1697.7 1585.1 1693.3 1595.7 1689.6C1606.2 1686 1616.8 1681.7 1627.4 1678.6C1637.9 1675.4 1648.5 1672.9 1659 1670.7C1669.6 1668.4 1674.8 1666.3 1690.7 1665.3C1706.5 1664.2 1738.1 1665 1754 1664.3C1769.8 1663.6 1775.1 1660.9 1785.6 1661.2C1796.2 1661.4 1809.6 1664.2 1817.3 1665.9C1825 1667.6 1824 1668.8 1831.7 1671.6C1839.3 1674.4 1852.8 1679.2 1863.3 1682.7C1873.9 1686.1 1881.8 1690.7 1895 1692.2C1908.2 1693.6 1926.6 1690.7 1942.5 1691.2C1958.3 1691.7 1974.1 1693.6 1989.9 1695.3C2005.8 1697.1 2019 1700.4 2037.4 1701.7C2055.9 1702.9 2084.9 1703.7 2100.7 1702.6C2116.6 1701.6 2119.2 1699.7 2132.4 1695.3C2145.6 1691 2164 1682.1 2179.9 1676.3C2195.7 1670.5 2211.5 1665 2227.4 1660.5C2243.2 1656 2256.4 1652.4 2274.8 1649.4C2293.3 1646.4 2319.7 1643.7 2338.1 1642.5C2356.6 1641.3 2369.5 1641.4 2385.6 1642.1C2401.7 1642.9 2426.5 1646.1 2434.7 1646.9" stroke="#ff0080"/>
<path d="M302.5 1436C302.9 1435.8 303.1 1435.6 305 1434.5C306.9 1433.4 311.2 1432.4 313.7 1429.5C316.2 1426.6 318.3 1423.2 320 1417C321.7 1410.8 322.5 1402.4 323.7 1392C324.9 1381.6 326.1 1369.2 327.4 1354.7C328.6 1340.2 329.9 1321.6 331.2 1305C332.5 1288.4 334 1267.5 335 1255C336 1242.5 336.7 1239.2 337.4 1230C338.1 1220.8 338.4 1200 339 1200C339.6 1200 340 1218.3 341 1230C342 1241.7 343.8 1268.3 345 1270C346.2 1271.7 347.2 1246.7 348 1240C348.8 1233.3 349 1253.3 350 1230C351 1206.7 352.8 1136.7 354 1100C355.2 1063.3 356.2 1043.3 357 1010C357.8 976.7 358.5 935 359 900C359.5 865 359.7 858.7 360 800C360.3 741.3 360.2 611.3 361 548C361.8 484.7 363.4 466.3 365 420C366.6 373.7 369.3 277.1 370.6 270.4C371.9 263.7 372.3 345.1 373 380C373.7 414.9 374.3 457.2 375 480C375.7 502.8 376.5 523.7 377.3 517C378.1 510.3 379.1 469.5 380 440C380.9 410.5 382.1 368.3 383 340C383.9 311.7 384.7 287.4 385.5 270C386.3 252.7 387.1 230.9 387.8 235.9C388.6 240.9 389.4 278.7 390 300C390.6 321.3 391.1 336.8 391.7 363.5C392.3 390.2 393 432.2 393.6 460C394.2 487.8 394.9 513.8 395.5 530C396.1 546.2 396.8 560.3 397.5 557C398.2 553.7 399 524.8 400 510C401 495.2 402.5 466.3 403.5 468C404.5 469.7 405.1 492.3 406 520C406.9 547.7 407.9 605.4 409 634C410.1 662.6 411.9 672.6 412.8 691.8C413.8 711 414.1 730.2 414.7 749.4C415.3 768.6 415.7 781.9 416.6 807C417.5 832.1 418.7 870.8 420 900C421.3 929.2 422.6 957 424.3 982C426 1007 428.1 1030.3 430 1050C431.9 1069.7 434.3 1100 436 1100C437.7 1100 438.5 1070.8 440 1050C441.5 1029.2 443.3 975 445 975C446.7 975 448.2 1029.2 450 1050C451.8 1070.8 454 1085 456 1100C458 1115 460.2 1140 462 1140C463.8 1140 465.3 1094.2 467 1100C468.7 1105.8 470.2 1166.7 472.4 1175C474.6 1183.3 477.6 1157.5 480 1150C482.4 1142.5 484.9 1136.3 487 1130C489.1 1123.7 491.1 1121.2 492.4 1112C493.7 1102.8 494.1 1087.1 494.9 1074.6C495.7 1062.1 496.1 1049.5 497.4 1037C498.6 1024.5 500.8 1004 502.4 999.8C504 995.6 505.9 1005.8 507.3 1012C508.7 1018.2 509.8 1026.6 511 1037C512.2 1047.4 513.8 1062.1 514.8 1074.6C515.8 1087.1 516.5 1099.4 517.3 1112C518.1 1124.6 518.5 1133.3 519.8 1150C521 1166.7 523.3 1193.3 524.8 1212C526.2 1230.7 527.2 1244 528.5 1262C529.8 1280 530.8 1310 532.3 1320C533.8 1330 535.4 1322.3 537.3 1322C539.2 1321.7 542 1321.8 543.5 1318C545 1314.2 544.8 1304.7 546 1299.5C547.2 1294.3 549.3 1287 551 1287C552.7 1287 554.5 1294.3 556 1299.5C557.5 1304.7 558.2 1314.6 559.7 1318C561.2 1321.4 562.8 1318.4 564.7 1320C566.6 1321.6 568.9 1326.9 571 1327.5C573.1 1328.1 575.3 1322.9 577.2 1323.7C579.1 1324.5 580.7 1328 582.2 1332.5C583.7 1337 585 1344.8 586 1351C587 1357.2 587.6 1363.7 588.4 1370C589.2 1376.3 589.1 1385.3 591 1388.6C592.9 1391.9 597.5 1386.7 599.6 1389.8C601.7 1392.9 602.2 1400 603.4 1407C604.6 1414 605.8 1423.7 607 1432C608.2 1440.3 609.5 1448.7 610.8 1457C612.1 1465.3 613.4 1474.7 614.6 1482C615.9 1489.3 616.8 1495.6 618.3 1500.8C619.8 1506 621.2 1509.9 623.3 1513C625.4 1516.1 628.1 1519 630.8 1519.5C633.5 1520 637.2 1517.9 639.5 1515.8C641.8 1513.7 642.8 1509.7 644.5 1507C646.2 1504.3 647.8 1501.3 649.5 1499.6C651.2 1497.9 652.8 1496.2 654.5 1497C656.2 1497.8 657.8 1500.8 659.5 1504.6C661.2 1508.3 662.8 1513.6 664.5 1519.5C666.2 1525.4 667.6 1532.4 669.5 1540C671.4 1547.6 673.7 1556.5 676 1565C678.3 1573.5 681 1586 683.3 1590.8C685.6 1595.6 687.4 1593.2 690 1594C692.6 1594.8 694.8 1594 699 1595.6C703.2 1597.2 710.2 1600 715 1603.5C719.7 1606.9 723.4 1615.9 727.6 1616.1C731.8 1616.4 735.5 1605.8 740.3 1605C745 1604.3 750.8 1608.2 756.1 1611.4C761.4 1614.5 766.1 1619.6 771.9 1624C777.8 1628.5 784.6 1636.7 790.9 1638.3C797.3 1639.9 804.1 1634.1 809.9 1633.5C815.7 1633 820 1635.9 825.8 1635.1C831.6 1634.3 839 1627.5 844.8 1628.8C850.6 1630.1 855.8 1637.5 860.6 1643C865.3 1648.6 869 1657.3 873.2 1662C877.5 1666.8 880.6 1672.6 885.9 1671.5C891.2 1670.5 898 1660.2 904.9 1655.7C911.8 1651.2 919.1 1647 927.1 1644.6C935 1642.2 943.9 1640.9 952.4 1641.4C960.8 1642 969.8 1645.4 977.7 1647.8C985.6 1650.2 993 1652.8 999.9 1655.7C1006.7 1658.6 1013.1 1662.3 1018.9 1665.2C1024.7 1668.1 1029.4 1673.6 1034.7 1673.1C1040 1672.6 1044.7 1664.4 1050.5 1662C1056.3 1659.7 1063.2 1658.3 1069.5 1658.9C1075.8 1659.4 1081.6 1665.2 1088.5 1665.2C1095.4 1665.2 1101.7 1661.2 1110.7 1658.9C1119.6 1656.5 1131.8 1652.3 1142.3 1650.9C1152.9 1649.6 1163.4 1649.1 1174 1650.9C1184.5 1652.8 1196 1658.1 1205.6 1662C1215.2 1666 1223.1 1674.4 1231.7 1674.8C1240.2 1675.2 1246.4 1664.9 1257 1664.3C1267.5 1663.8 1283.4 1668.2 1295 1671.6C1306.6 1675 1316.1 1679.5 1326.6 1684.9C1337.2 1690.3 1347.7 1698.6 1358.3 1703.9C1368.8 1709.2 1379.4 1713.1 1389.9 1716.6C1400.5 1720 1411 1722.5 1421.6 1724.5C1432.1 1726.5 1440.1 1728.3 1453.2 1728.6C1466.4 1728.8 1487.5 1725.9 1500.7 1726.1C1513.9 1726.2 1521.8 1727.6 1532.4 1729.2C1542.9 1730.8 1553.5 1733.2 1564 1735.5C1574.6 1737.9 1582.5 1741.6 1595.7 1743.5C1608.9 1745.3 1627.4 1746.1 1643.2 1746.6C1659 1747.2 1674.8 1747.2 1690.7 1746.6C1706.5 1746.1 1722.3 1744 1738.1 1743.5C1754 1742.9 1770 1743.8 1785.6 1743.5C1801.2 1743.1 1818.7 1742.9 1831.7 1741.2C1844.6 1739.5 1852.8 1735.2 1863.3 1733.3C1873.9 1731.5 1879.1 1730.7 1895 1730.2C1910.8 1729.6 1931.9 1729.9 1958.3 1730.2C1984.7 1730.4 2016.3 1731.2 2053.2 1731.7C2090.2 1732.3 2137.7 1732.5 2179.9 1733.3C2222.1 1734.1 2274.8 1735.2 2306.5 1736.5C2338.1 1737.8 2348.4 1739.4 2369.8 1741.2C2391.2 1743.1 2423.9 1746.5 2434.7 1747.6" stroke="#c0c0c0"/>
<path d="M302.5 1419.6L338 965.6L462.4 965.6L469.5 997.3L476.6 1026.5L483.7 1053.6L490.8 1078.7L497.9 1102L505 1123.8L512.1 1144.2L519.2 1163.3L526.3 1181.3L533.4 1198.2L540.5 1214.1L547.6 1229.2L554.7 1243.5L561.8 1257L568.9 1269.8L576 1282L583.1 1293.6L590.3 1304.7L597.4 1315.3L604.5 1325.4L611.6 1335L618.7 1344.2L625.8 1353.1L632.9 1361.6L640 1369.7L647.1 1377.5L654.2 1385.1L661.3 1392.3L668.4 1399.3L675.5 1406L682.6 1412.5L689.7 1418.7L696.8 1424.8L703.9 1430.6L711 1436.3L718.1 1441.7L725.2 1447L732.4 1452.1L739.5 1457.1L746.6 1461.9L753.7 1466.6L760.8 1471.1L767.9 1475.5L775 1479.8L782.1 1483.9L789.2 1488L796.3 1491.9L803.4 1495.7L810.5 1499.4L817.6 1503.1L824.7 1506.6L831.8 1510L838.9 1513.4L846 1516.6L853.1 1519.8L860.2 1522.9L867.3 1526L874.5 1528.9L881.6 1531.8L888.7 1534.7L895.8 1537.4L902.9 1540.1L910 1542.8L917.1 1545.4L924.2 1547.9L931.3 1550.4L938.4 1552.8L945.5 1555.2L952.6 1557.5L959.7 1559.8L966.8 1562L973.9 1564.2L981 1566.3L988.1 1568.4L995.2 1570.5L1002.3 1572.5L1009.4 1574.4L1016.6 1576.4L1023.7 1578.3L1030.8 1580.2L1037.9 1582L1045 1583.8L1052.1 1585.6L1059.2 1587.3L1066.3 1589L1073.4 1590.7L1080.5 1592.3L1087.6 1593.9L1094.7 1595.5L1101.8 1597.1L2434 1659" stroke="#ff0000" stroke-width="13" stroke-linejoin="miter"/>
</g>
<path d="M1688 195.5H1857" stroke="#ff0000" stroke-width="14" fill="none"/>
<circle cx="1688" cy="195.5" r="7" fill="#ff0000"/>
<text class="lg" x="1871.5" y="206" textLength="531" lengthAdjust="spacingAndGlyphs">Design response spectrum</text>
<text class="tk" transform="translate(265.5 1817.5) scale(1.02 1)" text-anchor="end">0.0</text>
<text class="tk" transform="translate(265.5 1244.3) scale(1.02 1)" text-anchor="end">0.5</text>
<text class="tk" transform="translate(265.5 671.2) scale(1.02 1)" text-anchor="end">1.0</text>
<text class="tk" transform="translate(265.5 98) scale(1.02 1)" text-anchor="end">1.5</text>
<text class="tk" transform="translate(302.5 1897) scale(1.03 1)" text-anchor="middle">0</text>
<text class="tk" transform="translate(657.8 1897) scale(1.03 1)" text-anchor="middle">1</text>
<text class="tk" transform="translate(1013 1897) scale(1.03 1)" text-anchor="middle">2</text>
<text class="tk" transform="translate(1368.2 1897) scale(1.03 1)" text-anchor="middle">3</text>
<text class="tk" transform="translate(1723.5 1897) scale(1.03 1)" text-anchor="middle">4</text>
<text class="tk" transform="translate(2078.8 1897) scale(1.03 1)" text-anchor="middle">5</text>
<text class="tk" transform="translate(2434 1897) scale(1.03 1)" text-anchor="middle">6</text>
<text class="xl" x="1229" y="2051" textLength="322" lengthAdjust="spacingAndGlyphs" stroke="#000" stroke-width="1.6">Period (s)</text>
<text class="yl" transform="translate(100 930.5) rotate(-90)" text-anchor="middle">S<tspan dy="25" font-size="58">a</tspan><tspan dy="-25">(g)</tspan></text>
</svg></body></html>
